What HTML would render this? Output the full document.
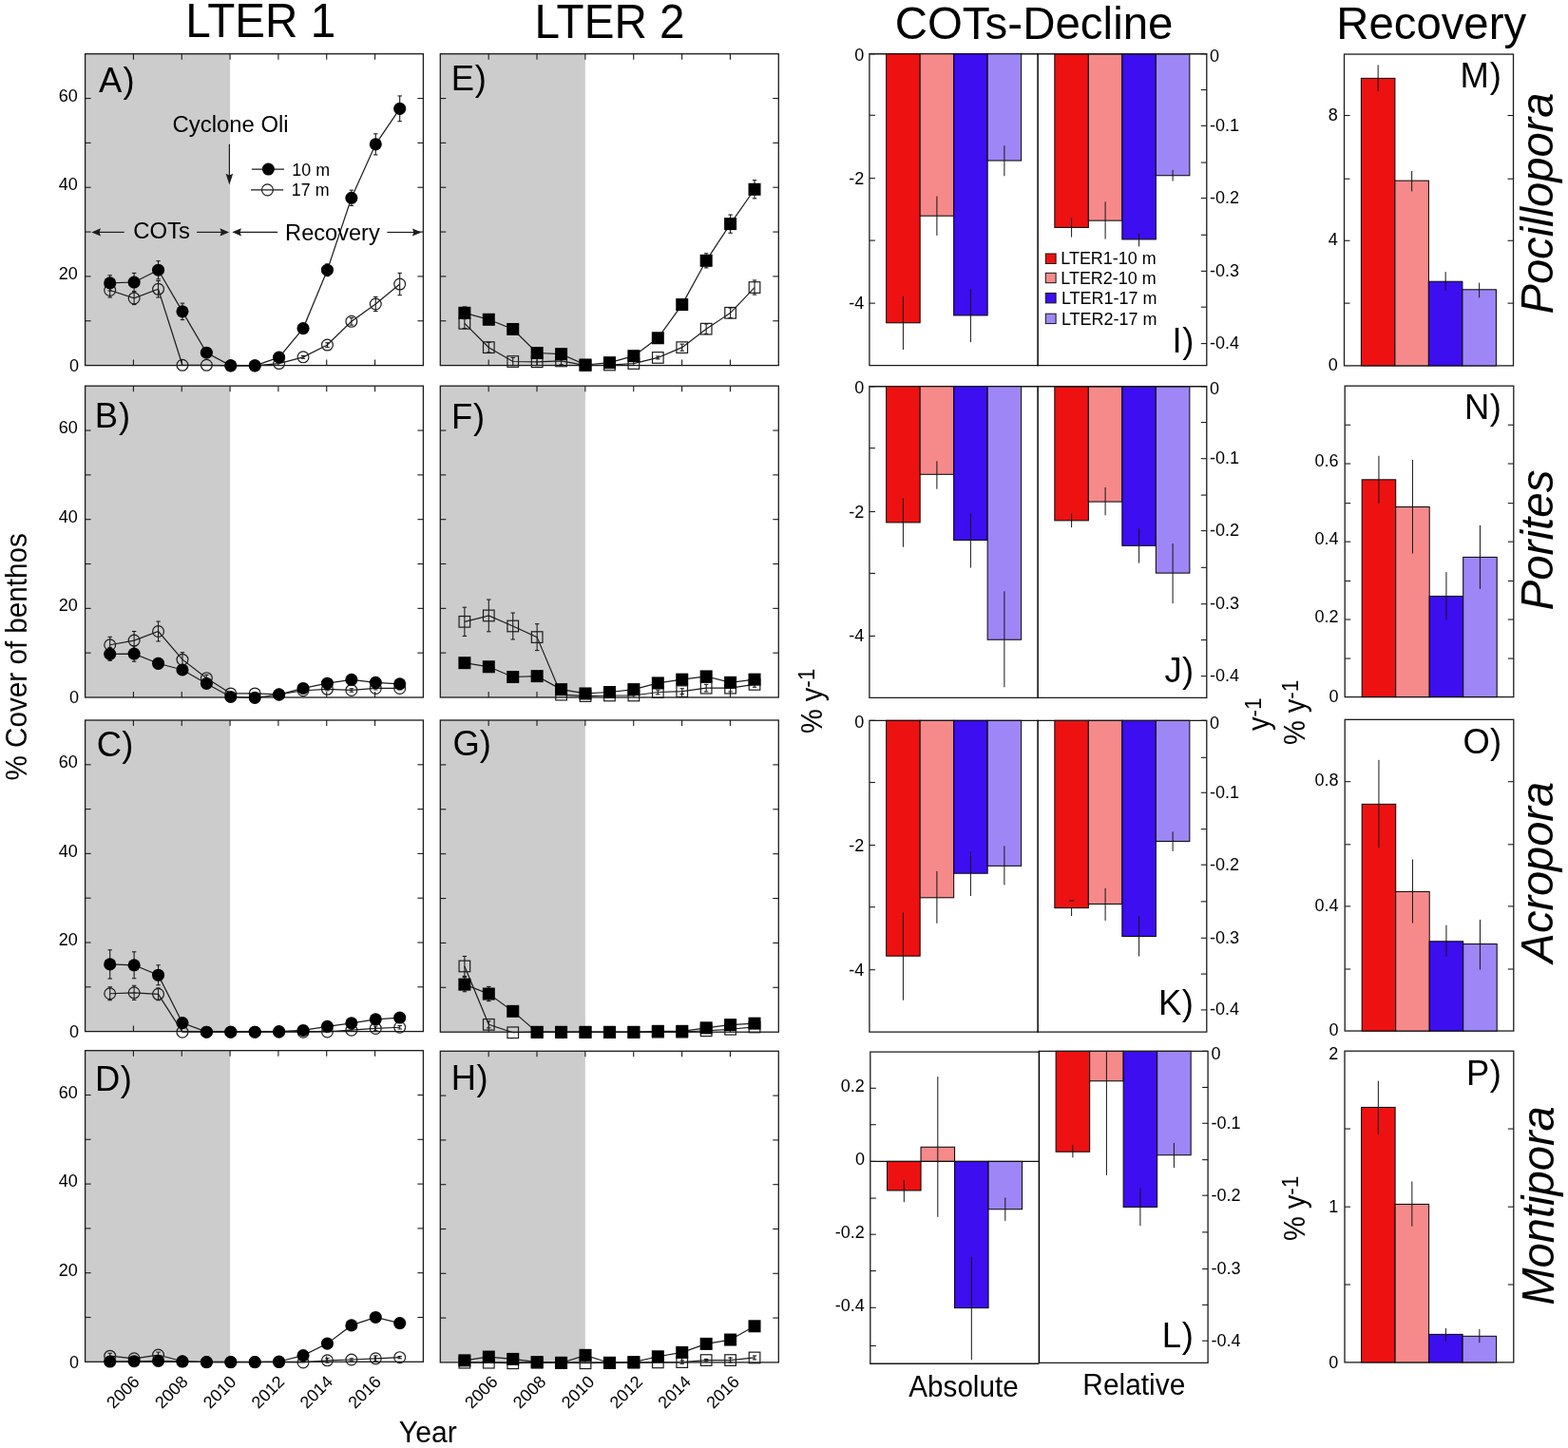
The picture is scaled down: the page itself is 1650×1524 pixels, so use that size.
<!DOCTYPE html>
<html lang="en">
<head>
<meta charset="utf-8">
<title>Coral cover figure</title>
<style>
html,body{margin:0;padding:0;background:#fff;}
body{width:1650px;height:1524px;overflow:hidden;}
svg{display:block;font-family:'Liberation Sans', Arial, Helvetica, sans-serif;}
</style>
</head>
<body>
<svg width="1650" height="1524" viewBox="0 0 1650 1524" font-family="Liberation Sans, Arial, Helvetica, sans-serif">
<rect x="0" y="0" width="1650" height="1524" fill="#fff"/>
<rect x="89.6" y="56.7" width="152.49" height="327.9" fill="#cccccc"/>
<line x1="140.43" y1="56.7" x2="140.43" y2="62.7" stroke="#1b1b1b" stroke-width="1.1"/>
<line x1="140.43" y1="384.6" x2="140.43" y2="378.6" stroke="#1b1b1b" stroke-width="1.1"/>
<line x1="191.26" y1="56.7" x2="191.26" y2="62.7" stroke="#1b1b1b" stroke-width="1.1"/>
<line x1="191.26" y1="384.6" x2="191.26" y2="378.6" stroke="#1b1b1b" stroke-width="1.1"/>
<line x1="242.09" y1="56.7" x2="242.09" y2="62.7" stroke="#1b1b1b" stroke-width="1.1"/>
<line x1="242.09" y1="384.6" x2="242.09" y2="378.6" stroke="#1b1b1b" stroke-width="1.1"/>
<line x1="292.91" y1="56.7" x2="292.91" y2="62.7" stroke="#1b1b1b" stroke-width="1.1"/>
<line x1="292.91" y1="384.6" x2="292.91" y2="378.6" stroke="#1b1b1b" stroke-width="1.1"/>
<line x1="343.74" y1="56.7" x2="343.74" y2="62.7" stroke="#1b1b1b" stroke-width="1.1"/>
<line x1="343.74" y1="384.6" x2="343.74" y2="378.6" stroke="#1b1b1b" stroke-width="1.1"/>
<line x1="394.57" y1="56.7" x2="394.57" y2="62.7" stroke="#1b1b1b" stroke-width="1.1"/>
<line x1="394.57" y1="384.6" x2="394.57" y2="378.6" stroke="#1b1b1b" stroke-width="1.1"/>
<line x1="89.6" y1="337.76" x2="95.6" y2="337.76" stroke="#1b1b1b" stroke-width="1.1"/>
<line x1="445.4" y1="337.76" x2="439.4" y2="337.76" stroke="#1b1b1b" stroke-width="1.1"/>
<line x1="89.6" y1="290.91" x2="95.6" y2="290.91" stroke="#1b1b1b" stroke-width="1.1"/>
<line x1="445.4" y1="290.91" x2="439.4" y2="290.91" stroke="#1b1b1b" stroke-width="1.1"/>
<line x1="89.6" y1="244.07" x2="95.6" y2="244.07" stroke="#1b1b1b" stroke-width="1.1"/>
<line x1="445.4" y1="244.07" x2="439.4" y2="244.07" stroke="#1b1b1b" stroke-width="1.1"/>
<line x1="89.6" y1="197.23" x2="95.6" y2="197.23" stroke="#1b1b1b" stroke-width="1.1"/>
<line x1="445.4" y1="197.23" x2="439.4" y2="197.23" stroke="#1b1b1b" stroke-width="1.1"/>
<line x1="89.6" y1="150.39" x2="95.6" y2="150.39" stroke="#1b1b1b" stroke-width="1.1"/>
<line x1="445.4" y1="150.39" x2="439.4" y2="150.39" stroke="#1b1b1b" stroke-width="1.1"/>
<line x1="89.6" y1="103.54" x2="95.6" y2="103.54" stroke="#1b1b1b" stroke-width="1.1"/>
<line x1="445.4" y1="103.54" x2="439.4" y2="103.54" stroke="#1b1b1b" stroke-width="1.1"/>
<rect x="89.6" y="56.7" width="355.8" height="327.9" fill="none" stroke="#1b1b1b" stroke-width="1.3"/>
<text x="83.1" y="390.8" font-size="18.0" text-anchor="end" fill="#000">0</text>
<text x="81.9" y="294.01" font-size="18.0" text-anchor="end" fill="#000">20</text>
<text x="81.9" y="200.33" font-size="18.0" text-anchor="end" fill="#000">40</text>
<text x="81.9" y="106.64" font-size="18.0" text-anchor="end" fill="#000">60</text>
<text x="104.12" y="96.65" font-size="36.4" letter-spacing="1.17">A)</text>
<g>
<polyline fill="none" stroke="#1c1c1c" stroke-width="1.2" points="115.71,305.45 141.13,313.89 166.54,304.29 191.96,384.29 217.37,384.29 242.79,384.87 268.2,384.87 293.61,382.55 319.03,375.85 344.44,363.05 369.86,338.33 395.27,320 420.69,299.05"/>
<line x1="115.71" y1="297.89" x2="115.71" y2="313.02" stroke="#1c1c1c" stroke-width="1.1"/>
<line x1="113.51" y1="297.89" x2="117.91" y2="297.89" stroke="#1c1c1c" stroke-width="1.1"/>
<line x1="113.51" y1="313.02" x2="117.91" y2="313.02" stroke="#1c1c1c" stroke-width="1.1"/>
<line x1="141.13" y1="307.2" x2="141.13" y2="320.58" stroke="#1c1c1c" stroke-width="1.1"/>
<line x1="138.93" y1="307.2" x2="143.33" y2="307.2" stroke="#1c1c1c" stroke-width="1.1"/>
<line x1="138.93" y1="320.58" x2="143.33" y2="320.58" stroke="#1c1c1c" stroke-width="1.1"/>
<line x1="166.54" y1="295.56" x2="166.54" y2="313.02" stroke="#1c1c1c" stroke-width="1.1"/>
<line x1="164.34" y1="295.56" x2="168.74" y2="295.56" stroke="#1c1c1c" stroke-width="1.1"/>
<line x1="164.34" y1="313.02" x2="168.74" y2="313.02" stroke="#1c1c1c" stroke-width="1.1"/>
<line x1="319.03" y1="374.4" x2="319.03" y2="377.31" stroke="#1c1c1c" stroke-width="1.1"/>
<line x1="316.83" y1="374.4" x2="321.23" y2="374.4" stroke="#1c1c1c" stroke-width="1.1"/>
<line x1="316.83" y1="377.31" x2="321.23" y2="377.31" stroke="#1c1c1c" stroke-width="1.1"/>
<line x1="344.44" y1="360.73" x2="344.44" y2="365.38" stroke="#1c1c1c" stroke-width="1.1"/>
<line x1="342.24" y1="360.73" x2="346.64" y2="360.73" stroke="#1c1c1c" stroke-width="1.1"/>
<line x1="342.24" y1="365.38" x2="346.64" y2="365.38" stroke="#1c1c1c" stroke-width="1.1"/>
<line x1="369.86" y1="334.55" x2="369.86" y2="342.11" stroke="#1c1c1c" stroke-width="1.1"/>
<line x1="367.66" y1="334.55" x2="372.06" y2="334.55" stroke="#1c1c1c" stroke-width="1.1"/>
<line x1="367.66" y1="342.11" x2="372.06" y2="342.11" stroke="#1c1c1c" stroke-width="1.1"/>
<line x1="395.27" y1="312.44" x2="395.27" y2="327.56" stroke="#1c1c1c" stroke-width="1.1"/>
<line x1="393.07" y1="312.44" x2="397.47" y2="312.44" stroke="#1c1c1c" stroke-width="1.1"/>
<line x1="393.07" y1="327.56" x2="397.47" y2="327.56" stroke="#1c1c1c" stroke-width="1.1"/>
<line x1="420.69" y1="287.42" x2="420.69" y2="310.69" stroke="#1c1c1c" stroke-width="1.1"/>
<line x1="418.49" y1="287.42" x2="422.89" y2="287.42" stroke="#1c1c1c" stroke-width="1.1"/>
<line x1="418.49" y1="310.69" x2="422.89" y2="310.69" stroke="#1c1c1c" stroke-width="1.1"/>
<circle cx="115.71" cy="305.45" r="5.9" fill="none" stroke="#1c1c1c" stroke-width="1.2"/>
<circle cx="141.13" cy="313.89" r="5.9" fill="none" stroke="#1c1c1c" stroke-width="1.2"/>
<circle cx="166.54" cy="304.29" r="5.9" fill="none" stroke="#1c1c1c" stroke-width="1.2"/>
<circle cx="191.96" cy="384.29" r="5.9" fill="none" stroke="#1c1c1c" stroke-width="1.2"/>
<circle cx="217.37" cy="384.29" r="5.9" fill="none" stroke="#1c1c1c" stroke-width="1.2"/>
<circle cx="242.79" cy="384.87" r="5.9" fill="none" stroke="#1c1c1c" stroke-width="1.2"/>
<circle cx="268.2" cy="384.87" r="5.9" fill="none" stroke="#1c1c1c" stroke-width="1.2"/>
<circle cx="293.61" cy="382.55" r="5.9" fill="none" stroke="#1c1c1c" stroke-width="1.2"/>
<circle cx="319.03" cy="375.85" r="5.9" fill="none" stroke="#1c1c1c" stroke-width="1.2"/>
<circle cx="344.44" cy="363.05" r="5.9" fill="none" stroke="#1c1c1c" stroke-width="1.2"/>
<circle cx="369.86" cy="338.33" r="5.9" fill="none" stroke="#1c1c1c" stroke-width="1.2"/>
<circle cx="395.27" cy="320" r="5.9" fill="none" stroke="#1c1c1c" stroke-width="1.2"/>
<circle cx="420.69" cy="299.05" r="5.9" fill="none" stroke="#1c1c1c" stroke-width="1.2"/>
<polyline fill="none" stroke="#1c1c1c" stroke-width="1.2" points="115.71,297.89 141.13,297.02 166.54,284.22 191.96,327.85 217.37,371.2 242.79,384.87 268.2,384.87 293.61,376.15 319.03,345.6 344.44,284.22 369.86,208.29 395.27,151.85 420.69,114.33"/>
<line x1="115.71" y1="289.75" x2="115.71" y2="306.04" stroke="#1c1c1c" stroke-width="1.1"/>
<line x1="113.51" y1="289.75" x2="117.91" y2="289.75" stroke="#1c1c1c" stroke-width="1.1"/>
<line x1="113.51" y1="306.04" x2="117.91" y2="306.04" stroke="#1c1c1c" stroke-width="1.1"/>
<line x1="141.13" y1="287.42" x2="141.13" y2="306.62" stroke="#1c1c1c" stroke-width="1.1"/>
<line x1="138.93" y1="287.42" x2="143.33" y2="287.42" stroke="#1c1c1c" stroke-width="1.1"/>
<line x1="138.93" y1="306.62" x2="143.33" y2="306.62" stroke="#1c1c1c" stroke-width="1.1"/>
<line x1="166.54" y1="274.62" x2="166.54" y2="293.82" stroke="#1c1c1c" stroke-width="1.1"/>
<line x1="164.34" y1="274.62" x2="168.74" y2="274.62" stroke="#1c1c1c" stroke-width="1.1"/>
<line x1="164.34" y1="293.82" x2="168.74" y2="293.82" stroke="#1c1c1c" stroke-width="1.1"/>
<line x1="191.96" y1="319.13" x2="191.96" y2="336.58" stroke="#1c1c1c" stroke-width="1.1"/>
<line x1="189.76" y1="319.13" x2="194.16" y2="319.13" stroke="#1c1c1c" stroke-width="1.1"/>
<line x1="189.76" y1="336.58" x2="194.16" y2="336.58" stroke="#1c1c1c" stroke-width="1.1"/>
<line x1="217.37" y1="368.29" x2="217.37" y2="374.11" stroke="#1c1c1c" stroke-width="1.1"/>
<line x1="215.17" y1="368.29" x2="219.57" y2="368.29" stroke="#1c1c1c" stroke-width="1.1"/>
<line x1="215.17" y1="374.11" x2="219.57" y2="374.11" stroke="#1c1c1c" stroke-width="1.1"/>
<line x1="293.61" y1="374.4" x2="293.61" y2="377.89" stroke="#1c1c1c" stroke-width="1.1"/>
<line x1="291.41" y1="374.4" x2="295.81" y2="374.4" stroke="#1c1c1c" stroke-width="1.1"/>
<line x1="291.41" y1="377.89" x2="295.81" y2="377.89" stroke="#1c1c1c" stroke-width="1.1"/>
<line x1="319.03" y1="343.27" x2="319.03" y2="347.93" stroke="#1c1c1c" stroke-width="1.1"/>
<line x1="316.83" y1="343.27" x2="321.23" y2="343.27" stroke="#1c1c1c" stroke-width="1.1"/>
<line x1="316.83" y1="347.93" x2="321.23" y2="347.93" stroke="#1c1c1c" stroke-width="1.1"/>
<line x1="344.44" y1="277.82" x2="344.44" y2="290.62" stroke="#1c1c1c" stroke-width="1.1"/>
<line x1="342.24" y1="277.82" x2="346.64" y2="277.82" stroke="#1c1c1c" stroke-width="1.1"/>
<line x1="342.24" y1="290.62" x2="346.64" y2="290.62" stroke="#1c1c1c" stroke-width="1.1"/>
<line x1="369.86" y1="200.15" x2="369.86" y2="216.44" stroke="#1c1c1c" stroke-width="1.1"/>
<line x1="367.66" y1="200.15" x2="372.06" y2="200.15" stroke="#1c1c1c" stroke-width="1.1"/>
<line x1="367.66" y1="216.44" x2="372.06" y2="216.44" stroke="#1c1c1c" stroke-width="1.1"/>
<line x1="395.27" y1="140.8" x2="395.27" y2="162.91" stroke="#1c1c1c" stroke-width="1.1"/>
<line x1="393.07" y1="140.8" x2="397.47" y2="140.8" stroke="#1c1c1c" stroke-width="1.1"/>
<line x1="393.07" y1="162.91" x2="397.47" y2="162.91" stroke="#1c1c1c" stroke-width="1.1"/>
<line x1="420.69" y1="100.95" x2="420.69" y2="127.71" stroke="#1c1c1c" stroke-width="1.1"/>
<line x1="418.49" y1="100.95" x2="422.89" y2="100.95" stroke="#1c1c1c" stroke-width="1.1"/>
<line x1="418.49" y1="127.71" x2="422.89" y2="127.71" stroke="#1c1c1c" stroke-width="1.1"/>
<circle cx="115.71" cy="297.89" r="6.55" fill="#000"/>
<circle cx="141.13" cy="297.02" r="6.55" fill="#000"/>
<circle cx="166.54" cy="284.22" r="6.55" fill="#000"/>
<circle cx="191.96" cy="327.85" r="6.55" fill="#000"/>
<circle cx="217.37" cy="371.2" r="6.55" fill="#000"/>
<circle cx="242.79" cy="384.87" r="6.55" fill="#000"/>
<circle cx="268.2" cy="384.87" r="6.55" fill="#000"/>
<circle cx="293.61" cy="376.15" r="6.55" fill="#000"/>
<circle cx="319.03" cy="345.6" r="6.55" fill="#000"/>
<circle cx="344.44" cy="284.22" r="6.55" fill="#000"/>
<circle cx="369.86" cy="208.29" r="6.55" fill="#000"/>
<circle cx="395.27" cy="151.85" r="6.55" fill="#000"/>
<circle cx="420.69" cy="114.33" r="6.55" fill="#000"/>
</g>
<rect x="89.6" y="406.2" width="152.49" height="327.8" fill="#cccccc"/>
<line x1="140.43" y1="406.2" x2="140.43" y2="412.2" stroke="#1b1b1b" stroke-width="1.1"/>
<line x1="140.43" y1="734" x2="140.43" y2="728" stroke="#1b1b1b" stroke-width="1.1"/>
<line x1="191.26" y1="406.2" x2="191.26" y2="412.2" stroke="#1b1b1b" stroke-width="1.1"/>
<line x1="191.26" y1="734" x2="191.26" y2="728" stroke="#1b1b1b" stroke-width="1.1"/>
<line x1="242.09" y1="406.2" x2="242.09" y2="412.2" stroke="#1b1b1b" stroke-width="1.1"/>
<line x1="242.09" y1="734" x2="242.09" y2="728" stroke="#1b1b1b" stroke-width="1.1"/>
<line x1="292.91" y1="406.2" x2="292.91" y2="412.2" stroke="#1b1b1b" stroke-width="1.1"/>
<line x1="292.91" y1="734" x2="292.91" y2="728" stroke="#1b1b1b" stroke-width="1.1"/>
<line x1="343.74" y1="406.2" x2="343.74" y2="412.2" stroke="#1b1b1b" stroke-width="1.1"/>
<line x1="343.74" y1="734" x2="343.74" y2="728" stroke="#1b1b1b" stroke-width="1.1"/>
<line x1="394.57" y1="406.2" x2="394.57" y2="412.2" stroke="#1b1b1b" stroke-width="1.1"/>
<line x1="394.57" y1="734" x2="394.57" y2="728" stroke="#1b1b1b" stroke-width="1.1"/>
<line x1="89.6" y1="687.17" x2="95.6" y2="687.17" stroke="#1b1b1b" stroke-width="1.1"/>
<line x1="445.4" y1="687.17" x2="439.4" y2="687.17" stroke="#1b1b1b" stroke-width="1.1"/>
<line x1="89.6" y1="640.34" x2="95.6" y2="640.34" stroke="#1b1b1b" stroke-width="1.1"/>
<line x1="445.4" y1="640.34" x2="439.4" y2="640.34" stroke="#1b1b1b" stroke-width="1.1"/>
<line x1="89.6" y1="593.51" x2="95.6" y2="593.51" stroke="#1b1b1b" stroke-width="1.1"/>
<line x1="445.4" y1="593.51" x2="439.4" y2="593.51" stroke="#1b1b1b" stroke-width="1.1"/>
<line x1="89.6" y1="546.69" x2="95.6" y2="546.69" stroke="#1b1b1b" stroke-width="1.1"/>
<line x1="445.4" y1="546.69" x2="439.4" y2="546.69" stroke="#1b1b1b" stroke-width="1.1"/>
<line x1="89.6" y1="499.86" x2="95.6" y2="499.86" stroke="#1b1b1b" stroke-width="1.1"/>
<line x1="445.4" y1="499.86" x2="439.4" y2="499.86" stroke="#1b1b1b" stroke-width="1.1"/>
<line x1="89.6" y1="453.03" x2="95.6" y2="453.03" stroke="#1b1b1b" stroke-width="1.1"/>
<line x1="445.4" y1="453.03" x2="439.4" y2="453.03" stroke="#1b1b1b" stroke-width="1.1"/>
<rect x="89.6" y="406.2" width="355.8" height="327.8" fill="none" stroke="#1b1b1b" stroke-width="1.3"/>
<text x="83.1" y="740.2" font-size="18.0" text-anchor="end" fill="#000">0</text>
<text x="81.9" y="643.44" font-size="18.0" text-anchor="end" fill="#000">20</text>
<text x="81.9" y="549.79" font-size="18.0" text-anchor="end" fill="#000">40</text>
<text x="81.9" y="456.13" font-size="18.0" text-anchor="end" fill="#000">60</text>
<text x="99.85" y="449.7" font-size="36.4" letter-spacing="0.94">B)</text>
<g>
<polyline fill="none" stroke="#1c1c1c" stroke-width="1.2" points="115.71,678.76 141.13,674.11 166.54,664.51 191.96,694.18 217.37,713.67 242.79,729.96 268.2,729.96 293.61,730.84 319.03,726.76 344.44,725.31 369.86,726.47 395.27,724.44 420.69,724.44"/>
<line x1="115.71" y1="670.33" x2="115.71" y2="687.2" stroke="#1c1c1c" stroke-width="1.1"/>
<line x1="113.51" y1="670.33" x2="117.91" y2="670.33" stroke="#1c1c1c" stroke-width="1.1"/>
<line x1="113.51" y1="687.2" x2="117.91" y2="687.2" stroke="#1c1c1c" stroke-width="1.1"/>
<line x1="141.13" y1="664.51" x2="141.13" y2="683.71" stroke="#1c1c1c" stroke-width="1.1"/>
<line x1="138.93" y1="664.51" x2="143.33" y2="664.51" stroke="#1c1c1c" stroke-width="1.1"/>
<line x1="138.93" y1="683.71" x2="143.33" y2="683.71" stroke="#1c1c1c" stroke-width="1.1"/>
<line x1="166.54" y1="654.04" x2="166.54" y2="674.98" stroke="#1c1c1c" stroke-width="1.1"/>
<line x1="164.34" y1="654.04" x2="168.74" y2="654.04" stroke="#1c1c1c" stroke-width="1.1"/>
<line x1="164.34" y1="674.98" x2="168.74" y2="674.98" stroke="#1c1c1c" stroke-width="1.1"/>
<line x1="191.96" y1="686.62" x2="191.96" y2="701.75" stroke="#1c1c1c" stroke-width="1.1"/>
<line x1="189.76" y1="686.62" x2="194.16" y2="686.62" stroke="#1c1c1c" stroke-width="1.1"/>
<line x1="189.76" y1="701.75" x2="194.16" y2="701.75" stroke="#1c1c1c" stroke-width="1.1"/>
<line x1="217.37" y1="710.18" x2="217.37" y2="717.16" stroke="#1c1c1c" stroke-width="1.1"/>
<line x1="215.17" y1="710.18" x2="219.57" y2="710.18" stroke="#1c1c1c" stroke-width="1.1"/>
<line x1="215.17" y1="717.16" x2="219.57" y2="717.16" stroke="#1c1c1c" stroke-width="1.1"/>
<line x1="319.03" y1="725.6" x2="319.03" y2="727.93" stroke="#1c1c1c" stroke-width="1.1"/>
<line x1="316.83" y1="725.6" x2="321.23" y2="725.6" stroke="#1c1c1c" stroke-width="1.1"/>
<line x1="316.83" y1="727.93" x2="321.23" y2="727.93" stroke="#1c1c1c" stroke-width="1.1"/>
<line x1="344.44" y1="723.85" x2="344.44" y2="726.76" stroke="#1c1c1c" stroke-width="1.1"/>
<line x1="342.24" y1="723.85" x2="346.64" y2="723.85" stroke="#1c1c1c" stroke-width="1.1"/>
<line x1="342.24" y1="726.76" x2="346.64" y2="726.76" stroke="#1c1c1c" stroke-width="1.1"/>
<line x1="369.86" y1="724.73" x2="369.86" y2="728.22" stroke="#1c1c1c" stroke-width="1.1"/>
<line x1="367.66" y1="724.73" x2="372.06" y2="724.73" stroke="#1c1c1c" stroke-width="1.1"/>
<line x1="367.66" y1="728.22" x2="372.06" y2="728.22" stroke="#1c1c1c" stroke-width="1.1"/>
<line x1="395.27" y1="722.98" x2="395.27" y2="725.89" stroke="#1c1c1c" stroke-width="1.1"/>
<line x1="393.07" y1="722.98" x2="397.47" y2="722.98" stroke="#1c1c1c" stroke-width="1.1"/>
<line x1="393.07" y1="725.89" x2="397.47" y2="725.89" stroke="#1c1c1c" stroke-width="1.1"/>
<line x1="420.69" y1="722.98" x2="420.69" y2="725.89" stroke="#1c1c1c" stroke-width="1.1"/>
<line x1="418.49" y1="722.98" x2="422.89" y2="722.98" stroke="#1c1c1c" stroke-width="1.1"/>
<line x1="418.49" y1="725.89" x2="422.89" y2="725.89" stroke="#1c1c1c" stroke-width="1.1"/>
<circle cx="115.71" cy="678.76" r="5.9" fill="none" stroke="#1c1c1c" stroke-width="1.2"/>
<circle cx="141.13" cy="674.11" r="5.9" fill="none" stroke="#1c1c1c" stroke-width="1.2"/>
<circle cx="166.54" cy="664.51" r="5.9" fill="none" stroke="#1c1c1c" stroke-width="1.2"/>
<circle cx="191.96" cy="694.18" r="5.9" fill="none" stroke="#1c1c1c" stroke-width="1.2"/>
<circle cx="217.37" cy="713.67" r="5.9" fill="none" stroke="#1c1c1c" stroke-width="1.2"/>
<circle cx="242.79" cy="729.96" r="5.9" fill="none" stroke="#1c1c1c" stroke-width="1.2"/>
<circle cx="268.2" cy="729.96" r="5.9" fill="none" stroke="#1c1c1c" stroke-width="1.2"/>
<circle cx="293.61" cy="730.84" r="5.9" fill="none" stroke="#1c1c1c" stroke-width="1.2"/>
<circle cx="319.03" cy="726.76" r="5.9" fill="none" stroke="#1c1c1c" stroke-width="1.2"/>
<circle cx="344.44" cy="725.31" r="5.9" fill="none" stroke="#1c1c1c" stroke-width="1.2"/>
<circle cx="369.86" cy="726.47" r="5.9" fill="none" stroke="#1c1c1c" stroke-width="1.2"/>
<circle cx="395.27" cy="724.44" r="5.9" fill="none" stroke="#1c1c1c" stroke-width="1.2"/>
<circle cx="420.69" cy="724.44" r="5.9" fill="none" stroke="#1c1c1c" stroke-width="1.2"/>
<polyline fill="none" stroke="#1c1c1c" stroke-width="1.2" points="115.71,688.36 141.13,688.07 166.54,698.25 191.96,704.95 217.37,719.49 242.79,733.45 268.2,734.33 293.61,731.13 319.03,724.44 344.44,719.2 369.86,715.42 395.27,718.33 420.69,719.78"/>
<line x1="115.71" y1="681.38" x2="115.71" y2="695.35" stroke="#1c1c1c" stroke-width="1.1"/>
<line x1="113.51" y1="681.38" x2="117.91" y2="681.38" stroke="#1c1c1c" stroke-width="1.1"/>
<line x1="113.51" y1="695.35" x2="117.91" y2="695.35" stroke="#1c1c1c" stroke-width="1.1"/>
<line x1="141.13" y1="679.93" x2="141.13" y2="696.22" stroke="#1c1c1c" stroke-width="1.1"/>
<line x1="138.93" y1="679.93" x2="143.33" y2="679.93" stroke="#1c1c1c" stroke-width="1.1"/>
<line x1="138.93" y1="696.22" x2="143.33" y2="696.22" stroke="#1c1c1c" stroke-width="1.1"/>
<line x1="166.54" y1="692.44" x2="166.54" y2="704.07" stroke="#1c1c1c" stroke-width="1.1"/>
<line x1="164.34" y1="692.44" x2="168.74" y2="692.44" stroke="#1c1c1c" stroke-width="1.1"/>
<line x1="164.34" y1="704.07" x2="168.74" y2="704.07" stroke="#1c1c1c" stroke-width="1.1"/>
<line x1="191.96" y1="701.45" x2="191.96" y2="708.44" stroke="#1c1c1c" stroke-width="1.1"/>
<line x1="189.76" y1="701.45" x2="194.16" y2="701.45" stroke="#1c1c1c" stroke-width="1.1"/>
<line x1="189.76" y1="708.44" x2="194.16" y2="708.44" stroke="#1c1c1c" stroke-width="1.1"/>
<line x1="217.37" y1="717.16" x2="217.37" y2="721.82" stroke="#1c1c1c" stroke-width="1.1"/>
<line x1="215.17" y1="717.16" x2="219.57" y2="717.16" stroke="#1c1c1c" stroke-width="1.1"/>
<line x1="215.17" y1="721.82" x2="219.57" y2="721.82" stroke="#1c1c1c" stroke-width="1.1"/>
<line x1="319.03" y1="722.98" x2="319.03" y2="725.89" stroke="#1c1c1c" stroke-width="1.1"/>
<line x1="316.83" y1="722.98" x2="321.23" y2="722.98" stroke="#1c1c1c" stroke-width="1.1"/>
<line x1="316.83" y1="725.89" x2="321.23" y2="725.89" stroke="#1c1c1c" stroke-width="1.1"/>
<line x1="344.44" y1="717.45" x2="344.44" y2="720.95" stroke="#1c1c1c" stroke-width="1.1"/>
<line x1="342.24" y1="717.45" x2="346.64" y2="717.45" stroke="#1c1c1c" stroke-width="1.1"/>
<line x1="342.24" y1="720.95" x2="346.64" y2="720.95" stroke="#1c1c1c" stroke-width="1.1"/>
<line x1="369.86" y1="713.67" x2="369.86" y2="717.16" stroke="#1c1c1c" stroke-width="1.1"/>
<line x1="367.66" y1="713.67" x2="372.06" y2="713.67" stroke="#1c1c1c" stroke-width="1.1"/>
<line x1="367.66" y1="717.16" x2="372.06" y2="717.16" stroke="#1c1c1c" stroke-width="1.1"/>
<line x1="395.27" y1="716.58" x2="395.27" y2="720.07" stroke="#1c1c1c" stroke-width="1.1"/>
<line x1="393.07" y1="716.58" x2="397.47" y2="716.58" stroke="#1c1c1c" stroke-width="1.1"/>
<line x1="393.07" y1="720.07" x2="397.47" y2="720.07" stroke="#1c1c1c" stroke-width="1.1"/>
<line x1="420.69" y1="718.04" x2="420.69" y2="721.53" stroke="#1c1c1c" stroke-width="1.1"/>
<line x1="418.49" y1="718.04" x2="422.89" y2="718.04" stroke="#1c1c1c" stroke-width="1.1"/>
<line x1="418.49" y1="721.53" x2="422.89" y2="721.53" stroke="#1c1c1c" stroke-width="1.1"/>
<circle cx="115.71" cy="688.36" r="6.55" fill="#000"/>
<circle cx="141.13" cy="688.07" r="6.55" fill="#000"/>
<circle cx="166.54" cy="698.25" r="6.55" fill="#000"/>
<circle cx="191.96" cy="704.95" r="6.55" fill="#000"/>
<circle cx="217.37" cy="719.49" r="6.55" fill="#000"/>
<circle cx="242.79" cy="733.45" r="6.55" fill="#000"/>
<circle cx="268.2" cy="734.33" r="6.55" fill="#000"/>
<circle cx="293.61" cy="731.13" r="6.55" fill="#000"/>
<circle cx="319.03" cy="724.44" r="6.55" fill="#000"/>
<circle cx="344.44" cy="719.2" r="6.55" fill="#000"/>
<circle cx="369.86" cy="715.42" r="6.55" fill="#000"/>
<circle cx="395.27" cy="718.33" r="6.55" fill="#000"/>
<circle cx="420.69" cy="719.78" r="6.55" fill="#000"/>
</g>
<rect x="89.6" y="758" width="152.49" height="327.6" fill="#cccccc"/>
<line x1="140.43" y1="758" x2="140.43" y2="764" stroke="#1b1b1b" stroke-width="1.1"/>
<line x1="140.43" y1="1085.6" x2="140.43" y2="1079.6" stroke="#1b1b1b" stroke-width="1.1"/>
<line x1="191.26" y1="758" x2="191.26" y2="764" stroke="#1b1b1b" stroke-width="1.1"/>
<line x1="191.26" y1="1085.6" x2="191.26" y2="1079.6" stroke="#1b1b1b" stroke-width="1.1"/>
<line x1="242.09" y1="758" x2="242.09" y2="764" stroke="#1b1b1b" stroke-width="1.1"/>
<line x1="242.09" y1="1085.6" x2="242.09" y2="1079.6" stroke="#1b1b1b" stroke-width="1.1"/>
<line x1="292.91" y1="758" x2="292.91" y2="764" stroke="#1b1b1b" stroke-width="1.1"/>
<line x1="292.91" y1="1085.6" x2="292.91" y2="1079.6" stroke="#1b1b1b" stroke-width="1.1"/>
<line x1="343.74" y1="758" x2="343.74" y2="764" stroke="#1b1b1b" stroke-width="1.1"/>
<line x1="343.74" y1="1085.6" x2="343.74" y2="1079.6" stroke="#1b1b1b" stroke-width="1.1"/>
<line x1="394.57" y1="758" x2="394.57" y2="764" stroke="#1b1b1b" stroke-width="1.1"/>
<line x1="394.57" y1="1085.6" x2="394.57" y2="1079.6" stroke="#1b1b1b" stroke-width="1.1"/>
<line x1="89.6" y1="1038.8" x2="95.6" y2="1038.8" stroke="#1b1b1b" stroke-width="1.1"/>
<line x1="445.4" y1="1038.8" x2="439.4" y2="1038.8" stroke="#1b1b1b" stroke-width="1.1"/>
<line x1="89.6" y1="992" x2="95.6" y2="992" stroke="#1b1b1b" stroke-width="1.1"/>
<line x1="445.4" y1="992" x2="439.4" y2="992" stroke="#1b1b1b" stroke-width="1.1"/>
<line x1="89.6" y1="945.2" x2="95.6" y2="945.2" stroke="#1b1b1b" stroke-width="1.1"/>
<line x1="445.4" y1="945.2" x2="439.4" y2="945.2" stroke="#1b1b1b" stroke-width="1.1"/>
<line x1="89.6" y1="898.4" x2="95.6" y2="898.4" stroke="#1b1b1b" stroke-width="1.1"/>
<line x1="445.4" y1="898.4" x2="439.4" y2="898.4" stroke="#1b1b1b" stroke-width="1.1"/>
<line x1="89.6" y1="851.6" x2="95.6" y2="851.6" stroke="#1b1b1b" stroke-width="1.1"/>
<line x1="445.4" y1="851.6" x2="439.4" y2="851.6" stroke="#1b1b1b" stroke-width="1.1"/>
<line x1="89.6" y1="804.8" x2="95.6" y2="804.8" stroke="#1b1b1b" stroke-width="1.1"/>
<line x1="445.4" y1="804.8" x2="439.4" y2="804.8" stroke="#1b1b1b" stroke-width="1.1"/>
<rect x="89.6" y="758" width="355.8" height="327.6" fill="none" stroke="#1b1b1b" stroke-width="1.3"/>
<text x="83.1" y="1091.8" font-size="18.0" text-anchor="end" fill="#000">0</text>
<text x="81.9" y="995.1" font-size="18.0" text-anchor="end" fill="#000">20</text>
<text x="81.9" y="901.5" font-size="18.0" text-anchor="end" fill="#000">40</text>
<text x="81.9" y="807.9" font-size="18.0" text-anchor="end" fill="#000">60</text>
<text x="101.68" y="795.9" font-size="36.4" letter-spacing="0.30">C)</text>
<g>
<polyline fill="none" stroke="#1c1c1c" stroke-width="1.2" points="115.71,1045.75 141.13,1044.87 166.54,1046.33 191.96,1086.18 217.37,1086.18 242.79,1086.18 268.2,1086.18 293.61,1086.18 319.03,1086.18 344.44,1085.89 369.86,1084.15 395.27,1082.4 420.69,1081.24"/>
<line x1="115.71" y1="1038.76" x2="115.71" y2="1052.73" stroke="#1c1c1c" stroke-width="1.1"/>
<line x1="113.51" y1="1038.76" x2="117.91" y2="1038.76" stroke="#1c1c1c" stroke-width="1.1"/>
<line x1="113.51" y1="1052.73" x2="117.91" y2="1052.73" stroke="#1c1c1c" stroke-width="1.1"/>
<line x1="141.13" y1="1037.31" x2="141.13" y2="1052.44" stroke="#1c1c1c" stroke-width="1.1"/>
<line x1="138.93" y1="1037.31" x2="143.33" y2="1037.31" stroke="#1c1c1c" stroke-width="1.1"/>
<line x1="138.93" y1="1052.44" x2="143.33" y2="1052.44" stroke="#1c1c1c" stroke-width="1.1"/>
<line x1="166.54" y1="1039.93" x2="166.54" y2="1052.73" stroke="#1c1c1c" stroke-width="1.1"/>
<line x1="164.34" y1="1039.93" x2="168.74" y2="1039.93" stroke="#1c1c1c" stroke-width="1.1"/>
<line x1="164.34" y1="1052.73" x2="168.74" y2="1052.73" stroke="#1c1c1c" stroke-width="1.1"/>
<line x1="369.86" y1="1082.98" x2="369.86" y2="1085.31" stroke="#1c1c1c" stroke-width="1.1"/>
<line x1="367.66" y1="1082.98" x2="372.06" y2="1082.98" stroke="#1c1c1c" stroke-width="1.1"/>
<line x1="367.66" y1="1085.31" x2="372.06" y2="1085.31" stroke="#1c1c1c" stroke-width="1.1"/>
<line x1="395.27" y1="1080.07" x2="395.27" y2="1084.73" stroke="#1c1c1c" stroke-width="1.1"/>
<line x1="393.07" y1="1080.07" x2="397.47" y2="1080.07" stroke="#1c1c1c" stroke-width="1.1"/>
<line x1="393.07" y1="1084.73" x2="397.47" y2="1084.73" stroke="#1c1c1c" stroke-width="1.1"/>
<line x1="420.69" y1="1079.49" x2="420.69" y2="1082.98" stroke="#1c1c1c" stroke-width="1.1"/>
<line x1="418.49" y1="1079.49" x2="422.89" y2="1079.49" stroke="#1c1c1c" stroke-width="1.1"/>
<line x1="418.49" y1="1082.98" x2="422.89" y2="1082.98" stroke="#1c1c1c" stroke-width="1.1"/>
<circle cx="115.71" cy="1045.75" r="5.9" fill="none" stroke="#1c1c1c" stroke-width="1.2"/>
<circle cx="141.13" cy="1044.87" r="5.9" fill="none" stroke="#1c1c1c" stroke-width="1.2"/>
<circle cx="166.54" cy="1046.33" r="5.9" fill="none" stroke="#1c1c1c" stroke-width="1.2"/>
<circle cx="191.96" cy="1086.18" r="5.9" fill="none" stroke="#1c1c1c" stroke-width="1.2"/>
<circle cx="217.37" cy="1086.18" r="5.9" fill="none" stroke="#1c1c1c" stroke-width="1.2"/>
<circle cx="242.79" cy="1086.18" r="5.9" fill="none" stroke="#1c1c1c" stroke-width="1.2"/>
<circle cx="268.2" cy="1086.18" r="5.9" fill="none" stroke="#1c1c1c" stroke-width="1.2"/>
<circle cx="293.61" cy="1086.18" r="5.9" fill="none" stroke="#1c1c1c" stroke-width="1.2"/>
<circle cx="319.03" cy="1086.18" r="5.9" fill="none" stroke="#1c1c1c" stroke-width="1.2"/>
<circle cx="344.44" cy="1085.89" r="5.9" fill="none" stroke="#1c1c1c" stroke-width="1.2"/>
<circle cx="369.86" cy="1084.15" r="5.9" fill="none" stroke="#1c1c1c" stroke-width="1.2"/>
<circle cx="395.27" cy="1082.4" r="5.9" fill="none" stroke="#1c1c1c" stroke-width="1.2"/>
<circle cx="420.69" cy="1081.24" r="5.9" fill="none" stroke="#1c1c1c" stroke-width="1.2"/>
<polyline fill="none" stroke="#1c1c1c" stroke-width="1.2" points="115.71,1014.91 141.13,1015.78 166.54,1026.25 191.96,1076.58 217.37,1086.18 242.79,1086.18 268.2,1086.18 293.61,1085.6 319.03,1084.44 344.44,1080.36 369.86,1076.87 395.27,1072.8 420.69,1071.05"/>
<line x1="115.71" y1="999.78" x2="115.71" y2="1030.04" stroke="#1c1c1c" stroke-width="1.1"/>
<line x1="113.51" y1="999.78" x2="117.91" y2="999.78" stroke="#1c1c1c" stroke-width="1.1"/>
<line x1="113.51" y1="1030.04" x2="117.91" y2="1030.04" stroke="#1c1c1c" stroke-width="1.1"/>
<line x1="141.13" y1="1001.82" x2="141.13" y2="1029.75" stroke="#1c1c1c" stroke-width="1.1"/>
<line x1="138.93" y1="1001.82" x2="143.33" y2="1001.82" stroke="#1c1c1c" stroke-width="1.1"/>
<line x1="138.93" y1="1029.75" x2="143.33" y2="1029.75" stroke="#1c1c1c" stroke-width="1.1"/>
<line x1="166.54" y1="1015.78" x2="166.54" y2="1036.73" stroke="#1c1c1c" stroke-width="1.1"/>
<line x1="164.34" y1="1015.78" x2="168.74" y2="1015.78" stroke="#1c1c1c" stroke-width="1.1"/>
<line x1="164.34" y1="1036.73" x2="168.74" y2="1036.73" stroke="#1c1c1c" stroke-width="1.1"/>
<line x1="191.96" y1="1073.67" x2="191.96" y2="1079.49" stroke="#1c1c1c" stroke-width="1.1"/>
<line x1="189.76" y1="1073.67" x2="194.16" y2="1073.67" stroke="#1c1c1c" stroke-width="1.1"/>
<line x1="189.76" y1="1079.49" x2="194.16" y2="1079.49" stroke="#1c1c1c" stroke-width="1.1"/>
<line x1="369.86" y1="1075.42" x2="369.86" y2="1078.33" stroke="#1c1c1c" stroke-width="1.1"/>
<line x1="367.66" y1="1075.42" x2="372.06" y2="1075.42" stroke="#1c1c1c" stroke-width="1.1"/>
<line x1="367.66" y1="1078.33" x2="372.06" y2="1078.33" stroke="#1c1c1c" stroke-width="1.1"/>
<line x1="395.27" y1="1071.05" x2="395.27" y2="1074.55" stroke="#1c1c1c" stroke-width="1.1"/>
<line x1="393.07" y1="1071.05" x2="397.47" y2="1071.05" stroke="#1c1c1c" stroke-width="1.1"/>
<line x1="393.07" y1="1074.55" x2="397.47" y2="1074.55" stroke="#1c1c1c" stroke-width="1.1"/>
<line x1="420.69" y1="1069.31" x2="420.69" y2="1072.8" stroke="#1c1c1c" stroke-width="1.1"/>
<line x1="418.49" y1="1069.31" x2="422.89" y2="1069.31" stroke="#1c1c1c" stroke-width="1.1"/>
<line x1="418.49" y1="1072.8" x2="422.89" y2="1072.8" stroke="#1c1c1c" stroke-width="1.1"/>
<circle cx="115.71" cy="1014.91" r="6.55" fill="#000"/>
<circle cx="141.13" cy="1015.78" r="6.55" fill="#000"/>
<circle cx="166.54" cy="1026.25" r="6.55" fill="#000"/>
<circle cx="191.96" cy="1076.58" r="6.55" fill="#000"/>
<circle cx="217.37" cy="1086.18" r="6.55" fill="#000"/>
<circle cx="242.79" cy="1086.18" r="6.55" fill="#000"/>
<circle cx="268.2" cy="1086.18" r="6.55" fill="#000"/>
<circle cx="293.61" cy="1085.6" r="6.55" fill="#000"/>
<circle cx="319.03" cy="1084.44" r="6.55" fill="#000"/>
<circle cx="344.44" cy="1080.36" r="6.55" fill="#000"/>
<circle cx="369.86" cy="1076.87" r="6.55" fill="#000"/>
<circle cx="395.27" cy="1072.8" r="6.55" fill="#000"/>
<circle cx="420.69" cy="1071.05" r="6.55" fill="#000"/>
</g>
<rect x="89.6" y="1105.7" width="152.49" height="327.6" fill="#cccccc"/>
<line x1="140.43" y1="1105.7" x2="140.43" y2="1111.7" stroke="#1b1b1b" stroke-width="1.1"/>
<line x1="140.43" y1="1433.3" x2="140.43" y2="1427.3" stroke="#1b1b1b" stroke-width="1.1"/>
<line x1="191.26" y1="1105.7" x2="191.26" y2="1111.7" stroke="#1b1b1b" stroke-width="1.1"/>
<line x1="191.26" y1="1433.3" x2="191.26" y2="1427.3" stroke="#1b1b1b" stroke-width="1.1"/>
<line x1="242.09" y1="1105.7" x2="242.09" y2="1111.7" stroke="#1b1b1b" stroke-width="1.1"/>
<line x1="242.09" y1="1433.3" x2="242.09" y2="1427.3" stroke="#1b1b1b" stroke-width="1.1"/>
<line x1="292.91" y1="1105.7" x2="292.91" y2="1111.7" stroke="#1b1b1b" stroke-width="1.1"/>
<line x1="292.91" y1="1433.3" x2="292.91" y2="1427.3" stroke="#1b1b1b" stroke-width="1.1"/>
<line x1="343.74" y1="1105.7" x2="343.74" y2="1111.7" stroke="#1b1b1b" stroke-width="1.1"/>
<line x1="343.74" y1="1433.3" x2="343.74" y2="1427.3" stroke="#1b1b1b" stroke-width="1.1"/>
<line x1="394.57" y1="1105.7" x2="394.57" y2="1111.7" stroke="#1b1b1b" stroke-width="1.1"/>
<line x1="394.57" y1="1433.3" x2="394.57" y2="1427.3" stroke="#1b1b1b" stroke-width="1.1"/>
<line x1="89.6" y1="1386.5" x2="95.6" y2="1386.5" stroke="#1b1b1b" stroke-width="1.1"/>
<line x1="445.4" y1="1386.5" x2="439.4" y2="1386.5" stroke="#1b1b1b" stroke-width="1.1"/>
<line x1="89.6" y1="1339.7" x2="95.6" y2="1339.7" stroke="#1b1b1b" stroke-width="1.1"/>
<line x1="445.4" y1="1339.7" x2="439.4" y2="1339.7" stroke="#1b1b1b" stroke-width="1.1"/>
<line x1="89.6" y1="1292.9" x2="95.6" y2="1292.9" stroke="#1b1b1b" stroke-width="1.1"/>
<line x1="445.4" y1="1292.9" x2="439.4" y2="1292.9" stroke="#1b1b1b" stroke-width="1.1"/>
<line x1="89.6" y1="1246.1" x2="95.6" y2="1246.1" stroke="#1b1b1b" stroke-width="1.1"/>
<line x1="445.4" y1="1246.1" x2="439.4" y2="1246.1" stroke="#1b1b1b" stroke-width="1.1"/>
<line x1="89.6" y1="1199.3" x2="95.6" y2="1199.3" stroke="#1b1b1b" stroke-width="1.1"/>
<line x1="445.4" y1="1199.3" x2="439.4" y2="1199.3" stroke="#1b1b1b" stroke-width="1.1"/>
<line x1="89.6" y1="1152.5" x2="95.6" y2="1152.5" stroke="#1b1b1b" stroke-width="1.1"/>
<line x1="445.4" y1="1152.5" x2="439.4" y2="1152.5" stroke="#1b1b1b" stroke-width="1.1"/>
<rect x="89.6" y="1105.7" width="355.8" height="327.6" fill="none" stroke="#1b1b1b" stroke-width="1.3"/>
<text x="83.1" y="1439.5" font-size="18.0" text-anchor="end" fill="#000">0</text>
<text x="81.9" y="1342.8" font-size="18.0" text-anchor="end" fill="#000">20</text>
<text x="81.9" y="1249.2" font-size="18.0" text-anchor="end" fill="#000">40</text>
<text x="81.9" y="1155.6" font-size="18.0" text-anchor="end" fill="#000">60</text>
<text x="99.99" y="1147.5" font-size="36.4" letter-spacing="0.59">D)</text>
<g>
<polyline fill="none" stroke="#1c1c1c" stroke-width="1.2" points="115.71,1427.2 141.13,1429.82 166.54,1426.04 191.96,1432.73 217.37,1433.6 242.79,1433.6 268.2,1433.6 293.61,1433.6 319.03,1433.89 344.44,1431.85 369.86,1430.98 395.27,1429.82 420.69,1428.65"/>
<line x1="115.71" y1="1424.29" x2="115.71" y2="1430.11" stroke="#1c1c1c" stroke-width="1.1"/>
<line x1="113.51" y1="1424.29" x2="117.91" y2="1424.29" stroke="#1c1c1c" stroke-width="1.1"/>
<line x1="113.51" y1="1430.11" x2="117.91" y2="1430.11" stroke="#1c1c1c" stroke-width="1.1"/>
<line x1="141.13" y1="1428.07" x2="141.13" y2="1431.56" stroke="#1c1c1c" stroke-width="1.1"/>
<line x1="138.93" y1="1428.07" x2="143.33" y2="1428.07" stroke="#1c1c1c" stroke-width="1.1"/>
<line x1="138.93" y1="1431.56" x2="143.33" y2="1431.56" stroke="#1c1c1c" stroke-width="1.1"/>
<line x1="166.54" y1="1423.13" x2="166.54" y2="1428.95" stroke="#1c1c1c" stroke-width="1.1"/>
<line x1="164.34" y1="1423.13" x2="168.74" y2="1423.13" stroke="#1c1c1c" stroke-width="1.1"/>
<line x1="164.34" y1="1428.95" x2="168.74" y2="1428.95" stroke="#1c1c1c" stroke-width="1.1"/>
<line x1="344.44" y1="1429.53" x2="344.44" y2="1434.18" stroke="#1c1c1c" stroke-width="1.1"/>
<line x1="342.24" y1="1429.53" x2="346.64" y2="1429.53" stroke="#1c1c1c" stroke-width="1.1"/>
<line x1="342.24" y1="1434.18" x2="346.64" y2="1434.18" stroke="#1c1c1c" stroke-width="1.1"/>
<line x1="369.86" y1="1429.82" x2="369.86" y2="1432.15" stroke="#1c1c1c" stroke-width="1.1"/>
<line x1="367.66" y1="1429.82" x2="372.06" y2="1429.82" stroke="#1c1c1c" stroke-width="1.1"/>
<line x1="367.66" y1="1432.15" x2="372.06" y2="1432.15" stroke="#1c1c1c" stroke-width="1.1"/>
<line x1="395.27" y1="1426.91" x2="395.27" y2="1432.73" stroke="#1c1c1c" stroke-width="1.1"/>
<line x1="393.07" y1="1426.91" x2="397.47" y2="1426.91" stroke="#1c1c1c" stroke-width="1.1"/>
<line x1="393.07" y1="1432.73" x2="397.47" y2="1432.73" stroke="#1c1c1c" stroke-width="1.1"/>
<line x1="420.69" y1="1427.49" x2="420.69" y2="1429.82" stroke="#1c1c1c" stroke-width="1.1"/>
<line x1="418.49" y1="1427.49" x2="422.89" y2="1427.49" stroke="#1c1c1c" stroke-width="1.1"/>
<line x1="418.49" y1="1429.82" x2="422.89" y2="1429.82" stroke="#1c1c1c" stroke-width="1.1"/>
<circle cx="115.71" cy="1427.2" r="5.9" fill="none" stroke="#1c1c1c" stroke-width="1.2"/>
<circle cx="141.13" cy="1429.82" r="5.9" fill="none" stroke="#1c1c1c" stroke-width="1.2"/>
<circle cx="166.54" cy="1426.04" r="5.9" fill="none" stroke="#1c1c1c" stroke-width="1.2"/>
<circle cx="191.96" cy="1432.73" r="5.9" fill="none" stroke="#1c1c1c" stroke-width="1.2"/>
<circle cx="217.37" cy="1433.6" r="5.9" fill="none" stroke="#1c1c1c" stroke-width="1.2"/>
<circle cx="242.79" cy="1433.6" r="5.9" fill="none" stroke="#1c1c1c" stroke-width="1.2"/>
<circle cx="268.2" cy="1433.6" r="5.9" fill="none" stroke="#1c1c1c" stroke-width="1.2"/>
<circle cx="293.61" cy="1433.6" r="5.9" fill="none" stroke="#1c1c1c" stroke-width="1.2"/>
<circle cx="319.03" cy="1433.89" r="5.9" fill="none" stroke="#1c1c1c" stroke-width="1.2"/>
<circle cx="344.44" cy="1431.85" r="5.9" fill="none" stroke="#1c1c1c" stroke-width="1.2"/>
<circle cx="369.86" cy="1430.98" r="5.9" fill="none" stroke="#1c1c1c" stroke-width="1.2"/>
<circle cx="395.27" cy="1429.82" r="5.9" fill="none" stroke="#1c1c1c" stroke-width="1.2"/>
<circle cx="420.69" cy="1428.65" r="5.9" fill="none" stroke="#1c1c1c" stroke-width="1.2"/>
<polyline fill="none" stroke="#1c1c1c" stroke-width="1.2" points="115.71,1433.02 141.13,1432.73 166.54,1432.44 191.96,1433.02 217.37,1433.6 242.79,1433.6 268.2,1433.6 293.61,1433.02 319.03,1426.62 344.44,1414.11 369.86,1394.91 395.27,1386.47 420.69,1392.58"/>
<circle cx="115.71" cy="1433.02" r="6.55" fill="#000"/>
<circle cx="141.13" cy="1432.73" r="6.55" fill="#000"/>
<circle cx="166.54" cy="1432.44" r="6.55" fill="#000"/>
<circle cx="191.96" cy="1433.02" r="6.55" fill="#000"/>
<circle cx="217.37" cy="1433.6" r="6.55" fill="#000"/>
<circle cx="242.79" cy="1433.6" r="6.55" fill="#000"/>
<circle cx="268.2" cy="1433.6" r="6.55" fill="#000"/>
<circle cx="293.61" cy="1433.02" r="6.55" fill="#000"/>
<circle cx="319.03" cy="1426.62" r="6.55" fill="#000"/>
<circle cx="344.44" cy="1414.11" r="6.55" fill="#000"/>
<circle cx="369.86" cy="1394.91" r="6.55" fill="#000"/>
<circle cx="395.27" cy="1386.47" r="6.55" fill="#000"/>
<circle cx="420.69" cy="1392.58" r="6.55" fill="#000"/>
</g>
<text x="147.93" y="1455.3" font-size="18.0" text-anchor="end" transform="rotate(-45 147.93 1455.3)" fill="#000">2006</text>
<text x="198.76" y="1455.3" font-size="18.0" text-anchor="end" transform="rotate(-45 198.76 1455.3)" fill="#000">2008</text>
<text x="249.59" y="1455.3" font-size="18.0" text-anchor="end" transform="rotate(-45 249.59 1455.3)" fill="#000">2010</text>
<text x="300.41" y="1455.3" font-size="18.0" text-anchor="end" transform="rotate(-45 300.41 1455.3)" fill="#000">2012</text>
<text x="351.24" y="1455.3" font-size="18.0" text-anchor="end" transform="rotate(-45 351.24 1455.3)" fill="#000">2014</text>
<text x="402.07" y="1455.3" font-size="18.0" text-anchor="end" transform="rotate(-45 402.07 1455.3)" fill="#000">2016</text>
<rect x="463.3" y="56.7" width="152.57" height="327.9" fill="#cccccc"/>
<line x1="514.16" y1="56.7" x2="514.16" y2="62.7" stroke="#1b1b1b" stroke-width="1.1"/>
<line x1="514.16" y1="384.6" x2="514.16" y2="378.6" stroke="#1b1b1b" stroke-width="1.1"/>
<line x1="565.01" y1="56.7" x2="565.01" y2="62.7" stroke="#1b1b1b" stroke-width="1.1"/>
<line x1="565.01" y1="384.6" x2="565.01" y2="378.6" stroke="#1b1b1b" stroke-width="1.1"/>
<line x1="615.87" y1="56.7" x2="615.87" y2="62.7" stroke="#1b1b1b" stroke-width="1.1"/>
<line x1="615.87" y1="384.6" x2="615.87" y2="378.6" stroke="#1b1b1b" stroke-width="1.1"/>
<line x1="666.73" y1="56.7" x2="666.73" y2="62.7" stroke="#1b1b1b" stroke-width="1.1"/>
<line x1="666.73" y1="384.6" x2="666.73" y2="378.6" stroke="#1b1b1b" stroke-width="1.1"/>
<line x1="717.59" y1="56.7" x2="717.59" y2="62.7" stroke="#1b1b1b" stroke-width="1.1"/>
<line x1="717.59" y1="384.6" x2="717.59" y2="378.6" stroke="#1b1b1b" stroke-width="1.1"/>
<line x1="768.44" y1="56.7" x2="768.44" y2="62.7" stroke="#1b1b1b" stroke-width="1.1"/>
<line x1="768.44" y1="384.6" x2="768.44" y2="378.6" stroke="#1b1b1b" stroke-width="1.1"/>
<line x1="463.3" y1="337.76" x2="469.3" y2="337.76" stroke="#1b1b1b" stroke-width="1.1"/>
<line x1="819.3" y1="337.76" x2="813.3" y2="337.76" stroke="#1b1b1b" stroke-width="1.1"/>
<line x1="463.3" y1="290.91" x2="469.3" y2="290.91" stroke="#1b1b1b" stroke-width="1.1"/>
<line x1="819.3" y1="290.91" x2="813.3" y2="290.91" stroke="#1b1b1b" stroke-width="1.1"/>
<line x1="463.3" y1="244.07" x2="469.3" y2="244.07" stroke="#1b1b1b" stroke-width="1.1"/>
<line x1="819.3" y1="244.07" x2="813.3" y2="244.07" stroke="#1b1b1b" stroke-width="1.1"/>
<line x1="463.3" y1="197.23" x2="469.3" y2="197.23" stroke="#1b1b1b" stroke-width="1.1"/>
<line x1="819.3" y1="197.23" x2="813.3" y2="197.23" stroke="#1b1b1b" stroke-width="1.1"/>
<line x1="463.3" y1="150.39" x2="469.3" y2="150.39" stroke="#1b1b1b" stroke-width="1.1"/>
<line x1="819.3" y1="150.39" x2="813.3" y2="150.39" stroke="#1b1b1b" stroke-width="1.1"/>
<line x1="463.3" y1="103.54" x2="469.3" y2="103.54" stroke="#1b1b1b" stroke-width="1.1"/>
<line x1="819.3" y1="103.54" x2="813.3" y2="103.54" stroke="#1b1b1b" stroke-width="1.1"/>
<rect x="463.3" y="56.7" width="356" height="327.9" fill="none" stroke="#1b1b1b" stroke-width="1.3"/>
<text x="474.69" y="95.15" font-size="36.4" letter-spacing="0.90">E)</text>
<g>
<polyline fill="none" stroke="#1c1c1c" stroke-width="1.2" points="488.88,340.36 514.31,365.67 539.74,380.51 565.16,380.8 590.59,379.93 616.02,384.58 641.45,384 666.88,382.55 692.31,376.44 717.74,365.67 743.16,346.18 768.59,329.31 794.02,302.55"/>
<line x1="488.88" y1="335.13" x2="488.88" y2="345.6" stroke="#1c1c1c" stroke-width="1.1"/>
<line x1="486.68" y1="335.13" x2="491.08" y2="335.13" stroke="#1c1c1c" stroke-width="1.1"/>
<line x1="486.68" y1="345.6" x2="491.08" y2="345.6" stroke="#1c1c1c" stroke-width="1.1"/>
<line x1="514.31" y1="360.44" x2="514.31" y2="370.91" stroke="#1c1c1c" stroke-width="1.1"/>
<line x1="512.11" y1="360.44" x2="516.51" y2="360.44" stroke="#1c1c1c" stroke-width="1.1"/>
<line x1="512.11" y1="370.91" x2="516.51" y2="370.91" stroke="#1c1c1c" stroke-width="1.1"/>
<line x1="539.74" y1="376.44" x2="539.74" y2="384.58" stroke="#1c1c1c" stroke-width="1.1"/>
<line x1="537.54" y1="376.44" x2="541.94" y2="376.44" stroke="#1c1c1c" stroke-width="1.1"/>
<line x1="537.54" y1="384.58" x2="541.94" y2="384.58" stroke="#1c1c1c" stroke-width="1.1"/>
<line x1="565.16" y1="377.02" x2="565.16" y2="384.58" stroke="#1c1c1c" stroke-width="1.1"/>
<line x1="562.96" y1="377.02" x2="567.36" y2="377.02" stroke="#1c1c1c" stroke-width="1.1"/>
<line x1="562.96" y1="384.58" x2="567.36" y2="384.58" stroke="#1c1c1c" stroke-width="1.1"/>
<line x1="590.59" y1="376.15" x2="590.59" y2="383.71" stroke="#1c1c1c" stroke-width="1.1"/>
<line x1="588.39" y1="376.15" x2="592.79" y2="376.15" stroke="#1c1c1c" stroke-width="1.1"/>
<line x1="588.39" y1="383.71" x2="592.79" y2="383.71" stroke="#1c1c1c" stroke-width="1.1"/>
<line x1="692.31" y1="374.98" x2="692.31" y2="377.89" stroke="#1c1c1c" stroke-width="1.1"/>
<line x1="690.11" y1="374.98" x2="694.51" y2="374.98" stroke="#1c1c1c" stroke-width="1.1"/>
<line x1="690.11" y1="377.89" x2="694.51" y2="377.89" stroke="#1c1c1c" stroke-width="1.1"/>
<line x1="717.74" y1="362.18" x2="717.74" y2="369.16" stroke="#1c1c1c" stroke-width="1.1"/>
<line x1="715.54" y1="362.18" x2="719.94" y2="362.18" stroke="#1c1c1c" stroke-width="1.1"/>
<line x1="715.54" y1="369.16" x2="719.94" y2="369.16" stroke="#1c1c1c" stroke-width="1.1"/>
<line x1="743.16" y1="340.95" x2="743.16" y2="351.42" stroke="#1c1c1c" stroke-width="1.1"/>
<line x1="740.96" y1="340.95" x2="745.36" y2="340.95" stroke="#1c1c1c" stroke-width="1.1"/>
<line x1="740.96" y1="351.42" x2="745.36" y2="351.42" stroke="#1c1c1c" stroke-width="1.1"/>
<line x1="768.59" y1="324.07" x2="768.59" y2="334.55" stroke="#1c1c1c" stroke-width="1.1"/>
<line x1="766.39" y1="324.07" x2="770.79" y2="324.07" stroke="#1c1c1c" stroke-width="1.1"/>
<line x1="766.39" y1="334.55" x2="770.79" y2="334.55" stroke="#1c1c1c" stroke-width="1.1"/>
<line x1="794.02" y1="294.98" x2="794.02" y2="310.11" stroke="#1c1c1c" stroke-width="1.1"/>
<line x1="791.82" y1="294.98" x2="796.22" y2="294.98" stroke="#1c1c1c" stroke-width="1.1"/>
<line x1="791.82" y1="310.11" x2="796.22" y2="310.11" stroke="#1c1c1c" stroke-width="1.1"/>
<rect x="483.08" y="334.56" width="11.6" height="11.6" fill="none" stroke="#1c1c1c" stroke-width="1.2"/>
<rect x="508.51" y="359.87" width="11.6" height="11.6" fill="none" stroke="#1c1c1c" stroke-width="1.2"/>
<rect x="533.94" y="374.71" width="11.6" height="11.6" fill="none" stroke="#1c1c1c" stroke-width="1.2"/>
<rect x="559.36" y="375" width="11.6" height="11.6" fill="none" stroke="#1c1c1c" stroke-width="1.2"/>
<rect x="584.79" y="374.13" width="11.6" height="11.6" fill="none" stroke="#1c1c1c" stroke-width="1.2"/>
<rect x="610.22" y="378.78" width="11.6" height="11.6" fill="none" stroke="#1c1c1c" stroke-width="1.2"/>
<rect x="635.65" y="378.2" width="11.6" height="11.6" fill="none" stroke="#1c1c1c" stroke-width="1.2"/>
<rect x="661.08" y="376.75" width="11.6" height="11.6" fill="none" stroke="#1c1c1c" stroke-width="1.2"/>
<rect x="686.51" y="370.64" width="11.6" height="11.6" fill="none" stroke="#1c1c1c" stroke-width="1.2"/>
<rect x="711.94" y="359.87" width="11.6" height="11.6" fill="none" stroke="#1c1c1c" stroke-width="1.2"/>
<rect x="737.36" y="340.38" width="11.6" height="11.6" fill="none" stroke="#1c1c1c" stroke-width="1.2"/>
<rect x="762.79" y="323.51" width="11.6" height="11.6" fill="none" stroke="#1c1c1c" stroke-width="1.2"/>
<rect x="788.22" y="296.75" width="11.6" height="11.6" fill="none" stroke="#1c1c1c" stroke-width="1.2"/>
<polyline fill="none" stroke="#1c1c1c" stroke-width="1.2" points="488.88,329.31 514.31,336.29 539.74,346.47 565.16,371.49 590.59,372.65 616.02,384 641.45,381.67 666.88,374.69 692.31,355.78 717.74,320.58 743.16,274.33 768.59,235.64 794.02,199.27"/>
<line x1="488.88" y1="322.91" x2="488.88" y2="335.71" stroke="#1c1c1c" stroke-width="1.1"/>
<line x1="486.68" y1="322.91" x2="491.08" y2="322.91" stroke="#1c1c1c" stroke-width="1.1"/>
<line x1="486.68" y1="335.71" x2="491.08" y2="335.71" stroke="#1c1c1c" stroke-width="1.1"/>
<line x1="514.31" y1="331.64" x2="514.31" y2="340.95" stroke="#1c1c1c" stroke-width="1.1"/>
<line x1="512.11" y1="331.64" x2="516.51" y2="331.64" stroke="#1c1c1c" stroke-width="1.1"/>
<line x1="512.11" y1="340.95" x2="516.51" y2="340.95" stroke="#1c1c1c" stroke-width="1.1"/>
<line x1="539.74" y1="342.4" x2="539.74" y2="350.55" stroke="#1c1c1c" stroke-width="1.1"/>
<line x1="537.54" y1="342.4" x2="541.94" y2="342.4" stroke="#1c1c1c" stroke-width="1.1"/>
<line x1="537.54" y1="350.55" x2="541.94" y2="350.55" stroke="#1c1c1c" stroke-width="1.1"/>
<line x1="565.16" y1="368.58" x2="565.16" y2="374.4" stroke="#1c1c1c" stroke-width="1.1"/>
<line x1="562.96" y1="368.58" x2="567.36" y2="368.58" stroke="#1c1c1c" stroke-width="1.1"/>
<line x1="562.96" y1="374.4" x2="567.36" y2="374.4" stroke="#1c1c1c" stroke-width="1.1"/>
<line x1="590.59" y1="369.75" x2="590.59" y2="375.56" stroke="#1c1c1c" stroke-width="1.1"/>
<line x1="588.39" y1="369.75" x2="592.79" y2="369.75" stroke="#1c1c1c" stroke-width="1.1"/>
<line x1="588.39" y1="375.56" x2="592.79" y2="375.56" stroke="#1c1c1c" stroke-width="1.1"/>
<line x1="666.88" y1="372.95" x2="666.88" y2="376.44" stroke="#1c1c1c" stroke-width="1.1"/>
<line x1="664.68" y1="372.95" x2="669.08" y2="372.95" stroke="#1c1c1c" stroke-width="1.1"/>
<line x1="664.68" y1="376.44" x2="669.08" y2="376.44" stroke="#1c1c1c" stroke-width="1.1"/>
<line x1="692.31" y1="353.45" x2="692.31" y2="358.11" stroke="#1c1c1c" stroke-width="1.1"/>
<line x1="690.11" y1="353.45" x2="694.51" y2="353.45" stroke="#1c1c1c" stroke-width="1.1"/>
<line x1="690.11" y1="358.11" x2="694.51" y2="358.11" stroke="#1c1c1c" stroke-width="1.1"/>
<line x1="717.74" y1="316.51" x2="717.74" y2="324.65" stroke="#1c1c1c" stroke-width="1.1"/>
<line x1="715.54" y1="316.51" x2="719.94" y2="316.51" stroke="#1c1c1c" stroke-width="1.1"/>
<line x1="715.54" y1="324.65" x2="719.94" y2="324.65" stroke="#1c1c1c" stroke-width="1.1"/>
<line x1="743.16" y1="266.76" x2="743.16" y2="281.89" stroke="#1c1c1c" stroke-width="1.1"/>
<line x1="740.96" y1="266.76" x2="745.36" y2="266.76" stroke="#1c1c1c" stroke-width="1.1"/>
<line x1="740.96" y1="281.89" x2="745.36" y2="281.89" stroke="#1c1c1c" stroke-width="1.1"/>
<line x1="768.59" y1="226.04" x2="768.59" y2="245.24" stroke="#1c1c1c" stroke-width="1.1"/>
<line x1="766.39" y1="226.04" x2="770.79" y2="226.04" stroke="#1c1c1c" stroke-width="1.1"/>
<line x1="766.39" y1="245.24" x2="770.79" y2="245.24" stroke="#1c1c1c" stroke-width="1.1"/>
<line x1="794.02" y1="189.67" x2="794.02" y2="208.87" stroke="#1c1c1c" stroke-width="1.1"/>
<line x1="791.82" y1="189.67" x2="796.22" y2="189.67" stroke="#1c1c1c" stroke-width="1.1"/>
<line x1="791.82" y1="208.87" x2="796.22" y2="208.87" stroke="#1c1c1c" stroke-width="1.1"/>
<rect x="482.38" y="322.81" width="13" height="13" fill="#000"/>
<rect x="507.81" y="329.79" width="13" height="13" fill="#000"/>
<rect x="533.24" y="339.97" width="13" height="13" fill="#000"/>
<rect x="558.66" y="364.99" width="13" height="13" fill="#000"/>
<rect x="584.09" y="366.15" width="13" height="13" fill="#000"/>
<rect x="609.52" y="377.5" width="13" height="13" fill="#000"/>
<rect x="634.95" y="375.17" width="13" height="13" fill="#000"/>
<rect x="660.38" y="368.19" width="13" height="13" fill="#000"/>
<rect x="685.81" y="349.28" width="13" height="13" fill="#000"/>
<rect x="711.24" y="314.08" width="13" height="13" fill="#000"/>
<rect x="736.66" y="267.83" width="13" height="13" fill="#000"/>
<rect x="762.09" y="229.14" width="13" height="13" fill="#000"/>
<rect x="787.52" y="192.77" width="13" height="13" fill="#000"/>
</g>
<rect x="463.3" y="406.2" width="152.57" height="327.8" fill="#cccccc"/>
<line x1="514.16" y1="406.2" x2="514.16" y2="412.2" stroke="#1b1b1b" stroke-width="1.1"/>
<line x1="514.16" y1="734" x2="514.16" y2="728" stroke="#1b1b1b" stroke-width="1.1"/>
<line x1="565.01" y1="406.2" x2="565.01" y2="412.2" stroke="#1b1b1b" stroke-width="1.1"/>
<line x1="565.01" y1="734" x2="565.01" y2="728" stroke="#1b1b1b" stroke-width="1.1"/>
<line x1="615.87" y1="406.2" x2="615.87" y2="412.2" stroke="#1b1b1b" stroke-width="1.1"/>
<line x1="615.87" y1="734" x2="615.87" y2="728" stroke="#1b1b1b" stroke-width="1.1"/>
<line x1="666.73" y1="406.2" x2="666.73" y2="412.2" stroke="#1b1b1b" stroke-width="1.1"/>
<line x1="666.73" y1="734" x2="666.73" y2="728" stroke="#1b1b1b" stroke-width="1.1"/>
<line x1="717.59" y1="406.2" x2="717.59" y2="412.2" stroke="#1b1b1b" stroke-width="1.1"/>
<line x1="717.59" y1="734" x2="717.59" y2="728" stroke="#1b1b1b" stroke-width="1.1"/>
<line x1="768.44" y1="406.2" x2="768.44" y2="412.2" stroke="#1b1b1b" stroke-width="1.1"/>
<line x1="768.44" y1="734" x2="768.44" y2="728" stroke="#1b1b1b" stroke-width="1.1"/>
<line x1="463.3" y1="687.17" x2="469.3" y2="687.17" stroke="#1b1b1b" stroke-width="1.1"/>
<line x1="819.3" y1="687.17" x2="813.3" y2="687.17" stroke="#1b1b1b" stroke-width="1.1"/>
<line x1="463.3" y1="640.34" x2="469.3" y2="640.34" stroke="#1b1b1b" stroke-width="1.1"/>
<line x1="819.3" y1="640.34" x2="813.3" y2="640.34" stroke="#1b1b1b" stroke-width="1.1"/>
<line x1="463.3" y1="593.51" x2="469.3" y2="593.51" stroke="#1b1b1b" stroke-width="1.1"/>
<line x1="819.3" y1="593.51" x2="813.3" y2="593.51" stroke="#1b1b1b" stroke-width="1.1"/>
<line x1="463.3" y1="546.69" x2="469.3" y2="546.69" stroke="#1b1b1b" stroke-width="1.1"/>
<line x1="819.3" y1="546.69" x2="813.3" y2="546.69" stroke="#1b1b1b" stroke-width="1.1"/>
<line x1="463.3" y1="499.86" x2="469.3" y2="499.86" stroke="#1b1b1b" stroke-width="1.1"/>
<line x1="819.3" y1="499.86" x2="813.3" y2="499.86" stroke="#1b1b1b" stroke-width="1.1"/>
<line x1="463.3" y1="453.03" x2="469.3" y2="453.03" stroke="#1b1b1b" stroke-width="1.1"/>
<line x1="819.3" y1="453.03" x2="813.3" y2="453.03" stroke="#1b1b1b" stroke-width="1.1"/>
<rect x="463.3" y="406.2" width="356" height="327.8" fill="none" stroke="#1b1b1b" stroke-width="1.3"/>
<text x="474.89" y="451.2" font-size="36.4" letter-spacing="0.98">F)</text>
<g>
<polyline fill="none" stroke="#1c1c1c" stroke-width="1.2" points="488.88,654.33 514.31,647.93 539.74,658.98 565.16,670.62 590.59,731.13 616.02,732.58 641.45,732 666.88,732 692.31,728.51 717.74,727.64 743.16,724.15 768.59,724.15 794.02,720.36"/>
<line x1="488.88" y1="639.2" x2="488.88" y2="669.45" stroke="#1c1c1c" stroke-width="1.1"/>
<line x1="486.68" y1="639.2" x2="491.08" y2="639.2" stroke="#1c1c1c" stroke-width="1.1"/>
<line x1="486.68" y1="669.45" x2="491.08" y2="669.45" stroke="#1c1c1c" stroke-width="1.1"/>
<line x1="514.31" y1="631.05" x2="514.31" y2="664.8" stroke="#1c1c1c" stroke-width="1.1"/>
<line x1="512.11" y1="631.05" x2="516.51" y2="631.05" stroke="#1c1c1c" stroke-width="1.1"/>
<line x1="512.11" y1="664.8" x2="516.51" y2="664.8" stroke="#1c1c1c" stroke-width="1.1"/>
<line x1="539.74" y1="645.02" x2="539.74" y2="672.95" stroke="#1c1c1c" stroke-width="1.1"/>
<line x1="537.54" y1="645.02" x2="541.94" y2="645.02" stroke="#1c1c1c" stroke-width="1.1"/>
<line x1="537.54" y1="672.95" x2="541.94" y2="672.95" stroke="#1c1c1c" stroke-width="1.1"/>
<line x1="565.16" y1="656.65" x2="565.16" y2="684.58" stroke="#1c1c1c" stroke-width="1.1"/>
<line x1="562.96" y1="656.65" x2="567.36" y2="656.65" stroke="#1c1c1c" stroke-width="1.1"/>
<line x1="562.96" y1="684.58" x2="567.36" y2="684.58" stroke="#1c1c1c" stroke-width="1.1"/>
<line x1="692.31" y1="726.18" x2="692.31" y2="730.84" stroke="#1c1c1c" stroke-width="1.1"/>
<line x1="690.11" y1="726.18" x2="694.51" y2="726.18" stroke="#1c1c1c" stroke-width="1.1"/>
<line x1="690.11" y1="730.84" x2="694.51" y2="730.84" stroke="#1c1c1c" stroke-width="1.1"/>
<line x1="717.74" y1="724.73" x2="717.74" y2="730.55" stroke="#1c1c1c" stroke-width="1.1"/>
<line x1="715.54" y1="724.73" x2="719.94" y2="724.73" stroke="#1c1c1c" stroke-width="1.1"/>
<line x1="715.54" y1="730.55" x2="719.94" y2="730.55" stroke="#1c1c1c" stroke-width="1.1"/>
<line x1="743.16" y1="720.36" x2="743.16" y2="727.93" stroke="#1c1c1c" stroke-width="1.1"/>
<line x1="740.96" y1="720.36" x2="745.36" y2="720.36" stroke="#1c1c1c" stroke-width="1.1"/>
<line x1="740.96" y1="727.93" x2="745.36" y2="727.93" stroke="#1c1c1c" stroke-width="1.1"/>
<line x1="768.59" y1="720.36" x2="768.59" y2="727.93" stroke="#1c1c1c" stroke-width="1.1"/>
<line x1="766.39" y1="720.36" x2="770.79" y2="720.36" stroke="#1c1c1c" stroke-width="1.1"/>
<line x1="766.39" y1="727.93" x2="770.79" y2="727.93" stroke="#1c1c1c" stroke-width="1.1"/>
<line x1="794.02" y1="717.45" x2="794.02" y2="723.27" stroke="#1c1c1c" stroke-width="1.1"/>
<line x1="791.82" y1="717.45" x2="796.22" y2="717.45" stroke="#1c1c1c" stroke-width="1.1"/>
<line x1="791.82" y1="723.27" x2="796.22" y2="723.27" stroke="#1c1c1c" stroke-width="1.1"/>
<rect x="483.08" y="648.53" width="11.6" height="11.6" fill="none" stroke="#1c1c1c" stroke-width="1.2"/>
<rect x="508.51" y="642.13" width="11.6" height="11.6" fill="none" stroke="#1c1c1c" stroke-width="1.2"/>
<rect x="533.94" y="653.18" width="11.6" height="11.6" fill="none" stroke="#1c1c1c" stroke-width="1.2"/>
<rect x="559.36" y="664.82" width="11.6" height="11.6" fill="none" stroke="#1c1c1c" stroke-width="1.2"/>
<rect x="584.79" y="725.33" width="11.6" height="11.6" fill="none" stroke="#1c1c1c" stroke-width="1.2"/>
<rect x="610.22" y="726.78" width="11.6" height="11.6" fill="none" stroke="#1c1c1c" stroke-width="1.2"/>
<rect x="635.65" y="726.2" width="11.6" height="11.6" fill="none" stroke="#1c1c1c" stroke-width="1.2"/>
<rect x="661.08" y="726.2" width="11.6" height="11.6" fill="none" stroke="#1c1c1c" stroke-width="1.2"/>
<rect x="686.51" y="722.71" width="11.6" height="11.6" fill="none" stroke="#1c1c1c" stroke-width="1.2"/>
<rect x="711.94" y="721.84" width="11.6" height="11.6" fill="none" stroke="#1c1c1c" stroke-width="1.2"/>
<rect x="737.36" y="718.35" width="11.6" height="11.6" fill="none" stroke="#1c1c1c" stroke-width="1.2"/>
<rect x="762.79" y="718.35" width="11.6" height="11.6" fill="none" stroke="#1c1c1c" stroke-width="1.2"/>
<rect x="788.22" y="714.56" width="11.6" height="11.6" fill="none" stroke="#1c1c1c" stroke-width="1.2"/>
<polyline fill="none" stroke="#1c1c1c" stroke-width="1.2" points="488.88,697.67 514.31,701.75 539.74,712.51 565.16,711.64 590.59,725.6 616.02,729.96 641.45,728.51 666.88,725.6 692.31,718.91 717.74,715.13 743.16,711.93 768.59,718.33 794.02,715.13"/>
<line x1="488.88" y1="694.76" x2="488.88" y2="700.58" stroke="#1c1c1c" stroke-width="1.1"/>
<line x1="486.68" y1="694.76" x2="491.08" y2="694.76" stroke="#1c1c1c" stroke-width="1.1"/>
<line x1="486.68" y1="700.58" x2="491.08" y2="700.58" stroke="#1c1c1c" stroke-width="1.1"/>
<line x1="514.31" y1="698.84" x2="514.31" y2="704.65" stroke="#1c1c1c" stroke-width="1.1"/>
<line x1="512.11" y1="698.84" x2="516.51" y2="698.84" stroke="#1c1c1c" stroke-width="1.1"/>
<line x1="512.11" y1="704.65" x2="516.51" y2="704.65" stroke="#1c1c1c" stroke-width="1.1"/>
<line x1="539.74" y1="710.18" x2="539.74" y2="714.84" stroke="#1c1c1c" stroke-width="1.1"/>
<line x1="537.54" y1="710.18" x2="541.94" y2="710.18" stroke="#1c1c1c" stroke-width="1.1"/>
<line x1="537.54" y1="714.84" x2="541.94" y2="714.84" stroke="#1c1c1c" stroke-width="1.1"/>
<line x1="565.16" y1="709.31" x2="565.16" y2="713.96" stroke="#1c1c1c" stroke-width="1.1"/>
<line x1="562.96" y1="709.31" x2="567.36" y2="709.31" stroke="#1c1c1c" stroke-width="1.1"/>
<line x1="562.96" y1="713.96" x2="567.36" y2="713.96" stroke="#1c1c1c" stroke-width="1.1"/>
<line x1="590.59" y1="723.85" x2="590.59" y2="727.35" stroke="#1c1c1c" stroke-width="1.1"/>
<line x1="588.39" y1="723.85" x2="592.79" y2="723.85" stroke="#1c1c1c" stroke-width="1.1"/>
<line x1="588.39" y1="727.35" x2="592.79" y2="727.35" stroke="#1c1c1c" stroke-width="1.1"/>
<line x1="692.31" y1="717.45" x2="692.31" y2="720.36" stroke="#1c1c1c" stroke-width="1.1"/>
<line x1="690.11" y1="717.45" x2="694.51" y2="717.45" stroke="#1c1c1c" stroke-width="1.1"/>
<line x1="690.11" y1="720.36" x2="694.51" y2="720.36" stroke="#1c1c1c" stroke-width="1.1"/>
<line x1="717.74" y1="713.38" x2="717.74" y2="716.87" stroke="#1c1c1c" stroke-width="1.1"/>
<line x1="715.54" y1="713.38" x2="719.94" y2="713.38" stroke="#1c1c1c" stroke-width="1.1"/>
<line x1="715.54" y1="716.87" x2="719.94" y2="716.87" stroke="#1c1c1c" stroke-width="1.1"/>
<line x1="743.16" y1="710.18" x2="743.16" y2="713.67" stroke="#1c1c1c" stroke-width="1.1"/>
<line x1="740.96" y1="710.18" x2="745.36" y2="710.18" stroke="#1c1c1c" stroke-width="1.1"/>
<line x1="740.96" y1="713.67" x2="745.36" y2="713.67" stroke="#1c1c1c" stroke-width="1.1"/>
<line x1="768.59" y1="716.58" x2="768.59" y2="720.07" stroke="#1c1c1c" stroke-width="1.1"/>
<line x1="766.39" y1="716.58" x2="770.79" y2="716.58" stroke="#1c1c1c" stroke-width="1.1"/>
<line x1="766.39" y1="720.07" x2="770.79" y2="720.07" stroke="#1c1c1c" stroke-width="1.1"/>
<line x1="794.02" y1="713.38" x2="794.02" y2="716.87" stroke="#1c1c1c" stroke-width="1.1"/>
<line x1="791.82" y1="713.38" x2="796.22" y2="713.38" stroke="#1c1c1c" stroke-width="1.1"/>
<line x1="791.82" y1="716.87" x2="796.22" y2="716.87" stroke="#1c1c1c" stroke-width="1.1"/>
<rect x="482.38" y="691.17" width="13" height="13" fill="#000"/>
<rect x="507.81" y="695.25" width="13" height="13" fill="#000"/>
<rect x="533.24" y="706.01" width="13" height="13" fill="#000"/>
<rect x="558.66" y="705.14" width="13" height="13" fill="#000"/>
<rect x="584.09" y="719.1" width="13" height="13" fill="#000"/>
<rect x="609.52" y="723.46" width="13" height="13" fill="#000"/>
<rect x="634.95" y="722.01" width="13" height="13" fill="#000"/>
<rect x="660.38" y="719.1" width="13" height="13" fill="#000"/>
<rect x="685.81" y="712.41" width="13" height="13" fill="#000"/>
<rect x="711.24" y="708.63" width="13" height="13" fill="#000"/>
<rect x="736.66" y="705.43" width="13" height="13" fill="#000"/>
<rect x="762.09" y="711.83" width="13" height="13" fill="#000"/>
<rect x="787.52" y="708.63" width="13" height="13" fill="#000"/>
</g>
<rect x="463.3" y="758" width="152.57" height="328.2" fill="#cccccc"/>
<line x1="514.16" y1="758" x2="514.16" y2="764" stroke="#1b1b1b" stroke-width="1.1"/>
<line x1="514.16" y1="1086.2" x2="514.16" y2="1080.2" stroke="#1b1b1b" stroke-width="1.1"/>
<line x1="565.01" y1="758" x2="565.01" y2="764" stroke="#1b1b1b" stroke-width="1.1"/>
<line x1="565.01" y1="1086.2" x2="565.01" y2="1080.2" stroke="#1b1b1b" stroke-width="1.1"/>
<line x1="615.87" y1="758" x2="615.87" y2="764" stroke="#1b1b1b" stroke-width="1.1"/>
<line x1="615.87" y1="1086.2" x2="615.87" y2="1080.2" stroke="#1b1b1b" stroke-width="1.1"/>
<line x1="666.73" y1="758" x2="666.73" y2="764" stroke="#1b1b1b" stroke-width="1.1"/>
<line x1="666.73" y1="1086.2" x2="666.73" y2="1080.2" stroke="#1b1b1b" stroke-width="1.1"/>
<line x1="717.59" y1="758" x2="717.59" y2="764" stroke="#1b1b1b" stroke-width="1.1"/>
<line x1="717.59" y1="1086.2" x2="717.59" y2="1080.2" stroke="#1b1b1b" stroke-width="1.1"/>
<line x1="768.44" y1="758" x2="768.44" y2="764" stroke="#1b1b1b" stroke-width="1.1"/>
<line x1="768.44" y1="1086.2" x2="768.44" y2="1080.2" stroke="#1b1b1b" stroke-width="1.1"/>
<line x1="463.3" y1="1039.31" x2="469.3" y2="1039.31" stroke="#1b1b1b" stroke-width="1.1"/>
<line x1="819.3" y1="1039.31" x2="813.3" y2="1039.31" stroke="#1b1b1b" stroke-width="1.1"/>
<line x1="463.3" y1="992.43" x2="469.3" y2="992.43" stroke="#1b1b1b" stroke-width="1.1"/>
<line x1="819.3" y1="992.43" x2="813.3" y2="992.43" stroke="#1b1b1b" stroke-width="1.1"/>
<line x1="463.3" y1="945.54" x2="469.3" y2="945.54" stroke="#1b1b1b" stroke-width="1.1"/>
<line x1="819.3" y1="945.54" x2="813.3" y2="945.54" stroke="#1b1b1b" stroke-width="1.1"/>
<line x1="463.3" y1="898.66" x2="469.3" y2="898.66" stroke="#1b1b1b" stroke-width="1.1"/>
<line x1="819.3" y1="898.66" x2="813.3" y2="898.66" stroke="#1b1b1b" stroke-width="1.1"/>
<line x1="463.3" y1="851.77" x2="469.3" y2="851.77" stroke="#1b1b1b" stroke-width="1.1"/>
<line x1="819.3" y1="851.77" x2="813.3" y2="851.77" stroke="#1b1b1b" stroke-width="1.1"/>
<line x1="463.3" y1="804.89" x2="469.3" y2="804.89" stroke="#1b1b1b" stroke-width="1.1"/>
<line x1="819.3" y1="804.89" x2="813.3" y2="804.89" stroke="#1b1b1b" stroke-width="1.1"/>
<rect x="463.3" y="758" width="356" height="328.2" fill="none" stroke="#1b1b1b" stroke-width="1.3"/>
<text x="476.48" y="795" font-size="36.4" letter-spacing="0.00">G)</text>
<g>
<polyline fill="none" stroke="#1c1c1c" stroke-width="1.2" points="488.88,1016.95 514.31,1078.33 539.74,1086.76 565.16,1086.18 590.59,1086.18 616.02,1086.18 641.45,1086.18 666.88,1086.18 692.31,1086.18 717.74,1086.18 743.16,1084.73 768.59,1083.27 794.02,1080.95"/>
<line x1="488.88" y1="1006.47" x2="488.88" y2="1027.42" stroke="#1c1c1c" stroke-width="1.1"/>
<line x1="486.68" y1="1006.47" x2="491.08" y2="1006.47" stroke="#1c1c1c" stroke-width="1.1"/>
<line x1="486.68" y1="1027.42" x2="491.08" y2="1027.42" stroke="#1c1c1c" stroke-width="1.1"/>
<line x1="514.31" y1="1074.84" x2="514.31" y2="1081.82" stroke="#1c1c1c" stroke-width="1.1"/>
<line x1="512.11" y1="1074.84" x2="516.51" y2="1074.84" stroke="#1c1c1c" stroke-width="1.1"/>
<line x1="512.11" y1="1081.82" x2="516.51" y2="1081.82" stroke="#1c1c1c" stroke-width="1.1"/>
<line x1="768.59" y1="1082.11" x2="768.59" y2="1084.44" stroke="#1c1c1c" stroke-width="1.1"/>
<line x1="766.39" y1="1082.11" x2="770.79" y2="1082.11" stroke="#1c1c1c" stroke-width="1.1"/>
<line x1="766.39" y1="1084.44" x2="770.79" y2="1084.44" stroke="#1c1c1c" stroke-width="1.1"/>
<line x1="794.02" y1="1079.49" x2="794.02" y2="1082.4" stroke="#1c1c1c" stroke-width="1.1"/>
<line x1="791.82" y1="1079.49" x2="796.22" y2="1079.49" stroke="#1c1c1c" stroke-width="1.1"/>
<line x1="791.82" y1="1082.4" x2="796.22" y2="1082.4" stroke="#1c1c1c" stroke-width="1.1"/>
<rect x="483.08" y="1011.15" width="11.6" height="11.6" fill="none" stroke="#1c1c1c" stroke-width="1.2"/>
<rect x="508.51" y="1072.53" width="11.6" height="11.6" fill="none" stroke="#1c1c1c" stroke-width="1.2"/>
<rect x="533.94" y="1080.96" width="11.6" height="11.6" fill="none" stroke="#1c1c1c" stroke-width="1.2"/>
<rect x="559.36" y="1080.38" width="11.6" height="11.6" fill="none" stroke="#1c1c1c" stroke-width="1.2"/>
<rect x="584.79" y="1080.38" width="11.6" height="11.6" fill="none" stroke="#1c1c1c" stroke-width="1.2"/>
<rect x="610.22" y="1080.38" width="11.6" height="11.6" fill="none" stroke="#1c1c1c" stroke-width="1.2"/>
<rect x="635.65" y="1080.38" width="11.6" height="11.6" fill="none" stroke="#1c1c1c" stroke-width="1.2"/>
<rect x="661.08" y="1080.38" width="11.6" height="11.6" fill="none" stroke="#1c1c1c" stroke-width="1.2"/>
<rect x="686.51" y="1080.38" width="11.6" height="11.6" fill="none" stroke="#1c1c1c" stroke-width="1.2"/>
<rect x="711.94" y="1080.38" width="11.6" height="11.6" fill="none" stroke="#1c1c1c" stroke-width="1.2"/>
<rect x="737.36" y="1078.93" width="11.6" height="11.6" fill="none" stroke="#1c1c1c" stroke-width="1.2"/>
<rect x="762.79" y="1077.47" width="11.6" height="11.6" fill="none" stroke="#1c1c1c" stroke-width="1.2"/>
<rect x="788.22" y="1075.15" width="11.6" height="11.6" fill="none" stroke="#1c1c1c" stroke-width="1.2"/>
<polyline fill="none" stroke="#1c1c1c" stroke-width="1.2" points="488.88,1036.15 514.31,1046.04 539.74,1064.36 565.16,1086.47 590.59,1086.47 616.02,1086.47 641.45,1086.47 666.88,1086.47 692.31,1085.31 717.74,1085.31 743.16,1081.82 768.59,1078.62 794.02,1077.16"/>
<line x1="488.88" y1="1028.58" x2="488.88" y2="1043.71" stroke="#1c1c1c" stroke-width="1.1"/>
<line x1="486.68" y1="1028.58" x2="491.08" y2="1028.58" stroke="#1c1c1c" stroke-width="1.1"/>
<line x1="486.68" y1="1043.71" x2="491.08" y2="1043.71" stroke="#1c1c1c" stroke-width="1.1"/>
<line x1="514.31" y1="1038.47" x2="514.31" y2="1053.6" stroke="#1c1c1c" stroke-width="1.1"/>
<line x1="512.11" y1="1038.47" x2="516.51" y2="1038.47" stroke="#1c1c1c" stroke-width="1.1"/>
<line x1="512.11" y1="1053.6" x2="516.51" y2="1053.6" stroke="#1c1c1c" stroke-width="1.1"/>
<line x1="539.74" y1="1060.87" x2="539.74" y2="1067.85" stroke="#1c1c1c" stroke-width="1.1"/>
<line x1="537.54" y1="1060.87" x2="541.94" y2="1060.87" stroke="#1c1c1c" stroke-width="1.1"/>
<line x1="537.54" y1="1067.85" x2="541.94" y2="1067.85" stroke="#1c1c1c" stroke-width="1.1"/>
<line x1="768.59" y1="1077.16" x2="768.59" y2="1080.07" stroke="#1c1c1c" stroke-width="1.1"/>
<line x1="766.39" y1="1077.16" x2="770.79" y2="1077.16" stroke="#1c1c1c" stroke-width="1.1"/>
<line x1="766.39" y1="1080.07" x2="770.79" y2="1080.07" stroke="#1c1c1c" stroke-width="1.1"/>
<line x1="794.02" y1="1075.71" x2="794.02" y2="1078.62" stroke="#1c1c1c" stroke-width="1.1"/>
<line x1="791.82" y1="1075.71" x2="796.22" y2="1075.71" stroke="#1c1c1c" stroke-width="1.1"/>
<line x1="791.82" y1="1078.62" x2="796.22" y2="1078.62" stroke="#1c1c1c" stroke-width="1.1"/>
<rect x="482.38" y="1029.65" width="13" height="13" fill="#000"/>
<rect x="507.81" y="1039.54" width="13" height="13" fill="#000"/>
<rect x="533.24" y="1057.86" width="13" height="13" fill="#000"/>
<rect x="558.66" y="1079.97" width="13" height="13" fill="#000"/>
<rect x="584.09" y="1079.97" width="13" height="13" fill="#000"/>
<rect x="609.52" y="1079.97" width="13" height="13" fill="#000"/>
<rect x="634.95" y="1079.97" width="13" height="13" fill="#000"/>
<rect x="660.38" y="1079.97" width="13" height="13" fill="#000"/>
<rect x="685.81" y="1078.81" width="13" height="13" fill="#000"/>
<rect x="711.24" y="1078.81" width="13" height="13" fill="#000"/>
<rect x="736.66" y="1075.32" width="13" height="13" fill="#000"/>
<rect x="762.09" y="1072.12" width="13" height="13" fill="#000"/>
<rect x="787.52" y="1070.66" width="13" height="13" fill="#000"/>
</g>
<rect x="463.3" y="1106.3" width="152.57" height="327.6" fill="#cccccc"/>
<line x1="514.16" y1="1106.3" x2="514.16" y2="1112.3" stroke="#1b1b1b" stroke-width="1.1"/>
<line x1="514.16" y1="1433.9" x2="514.16" y2="1427.9" stroke="#1b1b1b" stroke-width="1.1"/>
<line x1="565.01" y1="1106.3" x2="565.01" y2="1112.3" stroke="#1b1b1b" stroke-width="1.1"/>
<line x1="565.01" y1="1433.9" x2="565.01" y2="1427.9" stroke="#1b1b1b" stroke-width="1.1"/>
<line x1="615.87" y1="1106.3" x2="615.87" y2="1112.3" stroke="#1b1b1b" stroke-width="1.1"/>
<line x1="615.87" y1="1433.9" x2="615.87" y2="1427.9" stroke="#1b1b1b" stroke-width="1.1"/>
<line x1="666.73" y1="1106.3" x2="666.73" y2="1112.3" stroke="#1b1b1b" stroke-width="1.1"/>
<line x1="666.73" y1="1433.9" x2="666.73" y2="1427.9" stroke="#1b1b1b" stroke-width="1.1"/>
<line x1="717.59" y1="1106.3" x2="717.59" y2="1112.3" stroke="#1b1b1b" stroke-width="1.1"/>
<line x1="717.59" y1="1433.9" x2="717.59" y2="1427.9" stroke="#1b1b1b" stroke-width="1.1"/>
<line x1="768.44" y1="1106.3" x2="768.44" y2="1112.3" stroke="#1b1b1b" stroke-width="1.1"/>
<line x1="768.44" y1="1433.9" x2="768.44" y2="1427.9" stroke="#1b1b1b" stroke-width="1.1"/>
<line x1="463.3" y1="1387.1" x2="469.3" y2="1387.1" stroke="#1b1b1b" stroke-width="1.1"/>
<line x1="819.3" y1="1387.1" x2="813.3" y2="1387.1" stroke="#1b1b1b" stroke-width="1.1"/>
<line x1="463.3" y1="1340.3" x2="469.3" y2="1340.3" stroke="#1b1b1b" stroke-width="1.1"/>
<line x1="819.3" y1="1340.3" x2="813.3" y2="1340.3" stroke="#1b1b1b" stroke-width="1.1"/>
<line x1="463.3" y1="1293.5" x2="469.3" y2="1293.5" stroke="#1b1b1b" stroke-width="1.1"/>
<line x1="819.3" y1="1293.5" x2="813.3" y2="1293.5" stroke="#1b1b1b" stroke-width="1.1"/>
<line x1="463.3" y1="1246.7" x2="469.3" y2="1246.7" stroke="#1b1b1b" stroke-width="1.1"/>
<line x1="819.3" y1="1246.7" x2="813.3" y2="1246.7" stroke="#1b1b1b" stroke-width="1.1"/>
<line x1="463.3" y1="1199.9" x2="469.3" y2="1199.9" stroke="#1b1b1b" stroke-width="1.1"/>
<line x1="819.3" y1="1199.9" x2="813.3" y2="1199.9" stroke="#1b1b1b" stroke-width="1.1"/>
<line x1="463.3" y1="1153.1" x2="469.3" y2="1153.1" stroke="#1b1b1b" stroke-width="1.1"/>
<line x1="819.3" y1="1153.1" x2="813.3" y2="1153.1" stroke="#1b1b1b" stroke-width="1.1"/>
<rect x="463.3" y="1106.3" width="356" height="327.6" fill="none" stroke="#1b1b1b" stroke-width="1.3"/>
<text x="474.69" y="1146.7" font-size="36.4" letter-spacing="0.59">H)</text>
<g>
<polyline fill="none" stroke="#1c1c1c" stroke-width="1.2" points="488.88,1434.18 514.31,1434.18 539.74,1434.76 565.16,1434.18 590.59,1434.18 616.02,1434.76 641.45,1434.18 666.88,1434.18 692.31,1433.89 717.74,1433.6 743.16,1431.56 768.59,1431.56 794.02,1428.95"/>
<line x1="717.74" y1="1431.85" x2="717.74" y2="1435.35" stroke="#1c1c1c" stroke-width="1.1"/>
<line x1="715.54" y1="1431.85" x2="719.94" y2="1431.85" stroke="#1c1c1c" stroke-width="1.1"/>
<line x1="715.54" y1="1435.35" x2="719.94" y2="1435.35" stroke="#1c1c1c" stroke-width="1.1"/>
<line x1="743.16" y1="1430.4" x2="743.16" y2="1432.73" stroke="#1c1c1c" stroke-width="1.1"/>
<line x1="740.96" y1="1430.4" x2="745.36" y2="1430.4" stroke="#1c1c1c" stroke-width="1.1"/>
<line x1="740.96" y1="1432.73" x2="745.36" y2="1432.73" stroke="#1c1c1c" stroke-width="1.1"/>
<line x1="768.59" y1="1429.24" x2="768.59" y2="1433.89" stroke="#1c1c1c" stroke-width="1.1"/>
<line x1="766.39" y1="1429.24" x2="770.79" y2="1429.24" stroke="#1c1c1c" stroke-width="1.1"/>
<line x1="766.39" y1="1433.89" x2="770.79" y2="1433.89" stroke="#1c1c1c" stroke-width="1.1"/>
<line x1="794.02" y1="1426.91" x2="794.02" y2="1430.98" stroke="#1c1c1c" stroke-width="1.1"/>
<line x1="791.82" y1="1426.91" x2="796.22" y2="1426.91" stroke="#1c1c1c" stroke-width="1.1"/>
<line x1="791.82" y1="1430.98" x2="796.22" y2="1430.98" stroke="#1c1c1c" stroke-width="1.1"/>
<rect x="483.08" y="1428.38" width="11.6" height="11.6" fill="none" stroke="#1c1c1c" stroke-width="1.2"/>
<rect x="508.51" y="1428.38" width="11.6" height="11.6" fill="none" stroke="#1c1c1c" stroke-width="1.2"/>
<rect x="533.94" y="1428.96" width="11.6" height="11.6" fill="none" stroke="#1c1c1c" stroke-width="1.2"/>
<rect x="559.36" y="1428.38" width="11.6" height="11.6" fill="none" stroke="#1c1c1c" stroke-width="1.2"/>
<rect x="584.79" y="1428.38" width="11.6" height="11.6" fill="none" stroke="#1c1c1c" stroke-width="1.2"/>
<rect x="610.22" y="1428.96" width="11.6" height="11.6" fill="none" stroke="#1c1c1c" stroke-width="1.2"/>
<rect x="635.65" y="1428.38" width="11.6" height="11.6" fill="none" stroke="#1c1c1c" stroke-width="1.2"/>
<rect x="661.08" y="1428.38" width="11.6" height="11.6" fill="none" stroke="#1c1c1c" stroke-width="1.2"/>
<rect x="686.51" y="1428.09" width="11.6" height="11.6" fill="none" stroke="#1c1c1c" stroke-width="1.2"/>
<rect x="711.94" y="1427.8" width="11.6" height="11.6" fill="none" stroke="#1c1c1c" stroke-width="1.2"/>
<rect x="737.36" y="1425.76" width="11.6" height="11.6" fill="none" stroke="#1c1c1c" stroke-width="1.2"/>
<rect x="762.79" y="1425.76" width="11.6" height="11.6" fill="none" stroke="#1c1c1c" stroke-width="1.2"/>
<rect x="788.22" y="1423.15" width="11.6" height="11.6" fill="none" stroke="#1c1c1c" stroke-width="1.2"/>
<polyline fill="none" stroke="#1c1c1c" stroke-width="1.2" points="488.88,1431.85 514.31,1428.07 539.74,1430.4 565.16,1433.6 590.59,1434.47 616.02,1426.33 641.45,1434.47 666.88,1433.6 692.31,1427.78 717.74,1423.42 743.16,1414.4 768.59,1410.04 794.02,1395.78"/>
<rect x="482.38" y="1425.35" width="13" height="13" fill="#000"/>
<rect x="507.81" y="1421.57" width="13" height="13" fill="#000"/>
<rect x="533.24" y="1423.9" width="13" height="13" fill="#000"/>
<rect x="558.66" y="1427.1" width="13" height="13" fill="#000"/>
<rect x="584.09" y="1427.97" width="13" height="13" fill="#000"/>
<rect x="609.52" y="1419.83" width="13" height="13" fill="#000"/>
<rect x="634.95" y="1427.97" width="13" height="13" fill="#000"/>
<rect x="660.38" y="1427.1" width="13" height="13" fill="#000"/>
<rect x="685.81" y="1421.28" width="13" height="13" fill="#000"/>
<rect x="711.24" y="1416.92" width="13" height="13" fill="#000"/>
<rect x="736.66" y="1407.9" width="13" height="13" fill="#000"/>
<rect x="762.09" y="1403.54" width="13" height="13" fill="#000"/>
<rect x="787.52" y="1389.28" width="13" height="13" fill="#000"/>
</g>
<text x="524.76" y="1455.3" font-size="18.0" text-anchor="end" transform="rotate(-45 524.76 1455.3)" fill="#000">2006</text>
<text x="575.61" y="1455.3" font-size="18.0" text-anchor="end" transform="rotate(-45 575.61 1455.3)" fill="#000">2008</text>
<text x="626.47" y="1455.3" font-size="18.0" text-anchor="end" transform="rotate(-45 626.47 1455.3)" fill="#000">2010</text>
<text x="677.33" y="1455.3" font-size="18.0" text-anchor="end" transform="rotate(-45 677.33 1455.3)" fill="#000">2012</text>
<text x="728.19" y="1455.3" font-size="18.0" text-anchor="end" transform="rotate(-45 728.19 1455.3)" fill="#000">2014</text>
<text x="779.04" y="1455.3" font-size="18.0" text-anchor="end" transform="rotate(-45 779.04 1455.3)" fill="#000">2016</text>
<text transform="translate(181.54 138.64) scale(0.9826 1)" font-size="24.3" fill="#000">Cyclone Oli</text>
<line x1="241.4" y1="151.8" x2="241.4" y2="188" stroke="#1c1c1c" stroke-width="1.2"/>
<path d="M241.4,194.5 L237.6,182.8 L241.4,184.6 L245.2,182.8 Z" fill="#1c1c1c"/>
<line x1="264.9" y1="178.1" x2="299" y2="178.1" stroke="#1c1c1c" stroke-width="1.2"/>
<circle cx="282.4" cy="178.1" r="6.5" fill="#000"/>
<line x1="264" y1="199.85" x2="298.2" y2="199.85" stroke="#1c1c1c" stroke-width="1.2"/>
<circle cx="281.45" cy="199.85" r="5.95" fill="none" stroke="#1c1c1c" stroke-width="1.2"/>
<text transform="translate(307.33 184.87) scale(0.9862 1)" font-size="18.1" fill="#000">10 m</text>
<text transform="translate(306.86 205.87) scale(0.9862 1)" font-size="18.1" fill="#000">17 m</text>
<line x1="101.3" y1="244.4" x2="130.7" y2="244.4" stroke="#1c1c1c" stroke-width="1.2"/>
<path d="M96.3,244.4 L106,240.3 L104.5,244.4 L106,248.5 Z" fill="#1c1c1c"/>
<line x1="207.1" y1="244.4" x2="236.1" y2="244.4" stroke="#1c1c1c" stroke-width="1.2"/>
<path d="M241.1,244.4 L231.4,240.3 L232.9,244.4 L231.4,248.5 Z" fill="#1c1c1c"/>
<line x1="249.3" y1="244.3" x2="292.2" y2="244.3" stroke="#1c1c1c" stroke-width="1.2"/>
<path d="M244.3,244.3 L254,240.2 L252.5,244.3 L254,248.4 Z" fill="#1c1c1c"/>
<line x1="407.4" y1="244.5" x2="438.6" y2="244.5" stroke="#1c1c1c" stroke-width="1.2"/>
<path d="M443.6,244.5 L433.9,240.4 L435.4,244.5 L433.9,248.6 Z" fill="#1c1c1c"/>
<text transform="translate(140.21 251.1) scale(0.9832 1)" font-size="24.3" fill="#000">COTs</text>
<text transform="translate(300.11 252.55) scale(0.9712 1)" font-size="24.3" fill="#000">Recovery</text>
<text transform="translate(562.59 40.4) scale(0.9684 1)" font-size="49.2" fill="#000">LTER 2</text>
<text transform="translate(195.29 39.4) scale(0.9684 1)" font-size="49.2" fill="#000">LTER 1</text>
<text transform="translate(941.63 40.7) scale(0.9812 1)" font-size="48.4" fill="#000">COTs-Decline</text>
<text transform="translate(1406.21 40.7) scale(0.9782 1)" font-size="48.4" fill="#000">Recovery</text>
<text transform="translate(27.9 821.61) rotate(-90) scale(0.9605 1)" font-size="30.9" fill="#000">% Cover of benthos</text>
<text transform="translate(419.85 1517.9) scale(0.9853 1)" font-size="30.6" fill="#000">Year</text>
<path d="M1092.1,56.73 H914.9 V384.58 H1092.1" fill="none" stroke="#1b1b1b" stroke-width="1.3"/>
<rect x="932.65" y="56.73" width="35.5" height="283.05" fill="#ee1111" stroke="#0a0a0a" stroke-width="1.05"/>
<rect x="968.15" y="56.73" width="35.5" height="170.47" fill="#f68a8a" stroke="#0a0a0a" stroke-width="1.05"/>
<rect x="1003.65" y="56.73" width="35.5" height="275.2" fill="#3c0ef0" stroke="#0a0a0a" stroke-width="1.05"/>
<rect x="1039.15" y="56.73" width="35.5" height="112.29" fill="#9e86f7" stroke="#0a0a0a" stroke-width="1.05"/>
<line x1="950.4" y1="311.85" x2="950.4" y2="368" stroke="#151515" stroke-width="1.0"/>
<line x1="985.9" y1="206.55" x2="985.9" y2="247.85" stroke="#151515" stroke-width="1.0"/>
<line x1="1021.4" y1="304.29" x2="1021.4" y2="360.15" stroke="#151515" stroke-width="1.0"/>
<line x1="1056.9" y1="153.31" x2="1056.9" y2="185.31" stroke="#151515" stroke-width="1.0"/>
<rect x="1109.85" y="56.73" width="35.5" height="182.69" fill="#ee1111" stroke="#0a0a0a" stroke-width="1.05"/>
<rect x="1145.35" y="56.73" width="35.5" height="175.42" fill="#f68a8a" stroke="#0a0a0a" stroke-width="1.05"/>
<rect x="1180.85" y="56.73" width="35.5" height="195.2" fill="#3c0ef0" stroke="#0a0a0a" stroke-width="1.05"/>
<rect x="1216.35" y="56.73" width="35.5" height="128" fill="#9e86f7" stroke="#0a0a0a" stroke-width="1.05"/>
<line x1="1127.6" y1="229.24" x2="1127.6" y2="249.6" stroke="#151515" stroke-width="1.0"/>
<line x1="1163.1" y1="212.36" x2="1163.1" y2="251.64" stroke="#151515" stroke-width="1.0"/>
<line x1="1198.6" y1="245.82" x2="1198.6" y2="259.49" stroke="#151515" stroke-width="1.0"/>
<line x1="1234.1" y1="178.91" x2="1234.1" y2="190.55" stroke="#151515" stroke-width="1.0"/>
<path d="M1092.1,56.73 H1269.8 V384.58 H1092.1" fill="none" stroke="#1b1b1b" stroke-width="1.3"/>
<line x1="1092.1" y1="56.13" x2="1092.1" y2="385.18" stroke="#000" stroke-width="1.5"/>
<line x1="914.9" y1="56.73" x2="920.9" y2="56.73" stroke="#1b1b1b" stroke-width="1.1"/>
<text x="909.3" y="64.03" font-size="18.0" text-anchor="end" fill="#000">0</text>
<line x1="914.9" y1="121.31" x2="920.9" y2="121.31" stroke="#1b1b1b" stroke-width="1.1"/>
<line x1="914.9" y1="187.64" x2="920.9" y2="187.64" stroke="#1b1b1b" stroke-width="1.1"/>
<text x="909.3" y="193.64" font-size="18.0" text-anchor="end" fill="#000">-2</text>
<line x1="914.9" y1="253.09" x2="920.9" y2="253.09" stroke="#1b1b1b" stroke-width="1.1"/>
<line x1="914.9" y1="319.13" x2="920.9" y2="319.13" stroke="#1b1b1b" stroke-width="1.1"/>
<text x="909.3" y="325.13" font-size="18.0" text-anchor="end" fill="#000">-4</text>
<line x1="1263.8" y1="56.73" x2="1269.8" y2="56.73" stroke="#1b1b1b" stroke-width="1.1"/>
<text x="1273.1" y="65.43" font-size="18.0" text-anchor="start" fill="#000">0</text>
<line x1="1263.8" y1="94.55" x2="1269.8" y2="94.55" stroke="#1b1b1b" stroke-width="1.1"/>
<line x1="1263.8" y1="132.36" x2="1269.8" y2="132.36" stroke="#1b1b1b" stroke-width="1.1"/>
<text x="1273.1" y="137.86" font-size="18.0" text-anchor="start" fill="#000">-0.1</text>
<line x1="1263.8" y1="171.05" x2="1269.8" y2="171.05" stroke="#1b1b1b" stroke-width="1.1"/>
<line x1="1263.8" y1="208.58" x2="1269.8" y2="208.58" stroke="#1b1b1b" stroke-width="1.1"/>
<text x="1273.1" y="214.08" font-size="18.0" text-anchor="start" fill="#000">-0.2</text>
<line x1="1263.8" y1="247.27" x2="1269.8" y2="247.27" stroke="#1b1b1b" stroke-width="1.1"/>
<line x1="1263.8" y1="285.38" x2="1269.8" y2="285.38" stroke="#1b1b1b" stroke-width="1.1"/>
<text x="1273.1" y="290.88" font-size="18.0" text-anchor="start" fill="#000">-0.3</text>
<line x1="1263.8" y1="323.2" x2="1269.8" y2="323.2" stroke="#1b1b1b" stroke-width="1.1"/>
<line x1="1263.8" y1="361.6" x2="1269.8" y2="361.6" stroke="#1b1b1b" stroke-width="1.1"/>
<text x="1273.1" y="367.1" font-size="18.0" text-anchor="start" fill="#000">-0.4</text>
<text x="1233.39" y="370.76" font-size="36.4" letter-spacing="0.65">I)</text>
<path d="M1092.1,406.76 H914.9 V734.33 H1092.1" fill="none" stroke="#1b1b1b" stroke-width="1.3"/>
<rect x="932.65" y="406.76" width="35.5" height="143.13" fill="#ee1111" stroke="#0a0a0a" stroke-width="1.05"/>
<rect x="968.15" y="406.76" width="35.5" height="92.51" fill="#f68a8a" stroke="#0a0a0a" stroke-width="1.05"/>
<rect x="1003.65" y="406.76" width="35.5" height="161.75" fill="#3c0ef0" stroke="#0a0a0a" stroke-width="1.05"/>
<rect x="1039.15" y="406.76" width="35.5" height="266.47" fill="#9e86f7" stroke="#0a0a0a" stroke-width="1.05"/>
<line x1="950.4" y1="524.58" x2="950.4" y2="575.78" stroke="#151515" stroke-width="1.0"/>
<line x1="985.9" y1="485.31" x2="985.9" y2="514.69" stroke="#151515" stroke-width="1.0"/>
<line x1="1021.4" y1="540.58" x2="1021.4" y2="597.6" stroke="#151515" stroke-width="1.0"/>
<line x1="1056.9" y1="622.33" x2="1056.9" y2="723.27" stroke="#151515" stroke-width="1.0"/>
<rect x="1109.85" y="406.76" width="35.5" height="141.09" fill="#ee1111" stroke="#0a0a0a" stroke-width="1.05"/>
<rect x="1145.35" y="406.76" width="35.5" height="121.31" fill="#f68a8a" stroke="#0a0a0a" stroke-width="1.05"/>
<rect x="1180.85" y="406.76" width="35.5" height="167.56" fill="#3c0ef0" stroke="#0a0a0a" stroke-width="1.05"/>
<rect x="1216.35" y="406.76" width="35.5" height="196.36" fill="#9e86f7" stroke="#0a0a0a" stroke-width="1.05"/>
<line x1="1127.6" y1="540.58" x2="1127.6" y2="555.13" stroke="#151515" stroke-width="1.0"/>
<line x1="1163.1" y1="512.95" x2="1163.1" y2="542.33" stroke="#151515" stroke-width="1.0"/>
<line x1="1198.6" y1="556.29" x2="1198.6" y2="592.65" stroke="#151515" stroke-width="1.0"/>
<line x1="1234.1" y1="572" x2="1234.1" y2="635.13" stroke="#151515" stroke-width="1.0"/>
<path d="M1092.1,406.76 H1269.8 V734.33 H1092.1" fill="none" stroke="#1b1b1b" stroke-width="1.3"/>
<line x1="1092.1" y1="406.16" x2="1092.1" y2="734.93" stroke="#000" stroke-width="1.5"/>
<line x1="914.9" y1="406.76" x2="920.9" y2="406.76" stroke="#1b1b1b" stroke-width="1.1"/>
<text x="909.3" y="414.06" font-size="18.0" text-anchor="end" fill="#000">0</text>
<line x1="914.9" y1="471.64" x2="920.9" y2="471.64" stroke="#1b1b1b" stroke-width="1.1"/>
<line x1="914.9" y1="538.55" x2="920.9" y2="538.55" stroke="#1b1b1b" stroke-width="1.1"/>
<text x="909.3" y="544.55" font-size="18.0" text-anchor="end" fill="#000">-2</text>
<line x1="914.9" y1="603.42" x2="920.9" y2="603.42" stroke="#1b1b1b" stroke-width="1.1"/>
<line x1="914.9" y1="669.45" x2="920.9" y2="669.45" stroke="#1b1b1b" stroke-width="1.1"/>
<text x="909.3" y="675.45" font-size="18.0" text-anchor="end" fill="#000">-4</text>
<line x1="1263.8" y1="406.76" x2="1269.8" y2="406.76" stroke="#1b1b1b" stroke-width="1.1"/>
<text x="1273.1" y="415.46" font-size="18.0" text-anchor="start" fill="#000">0</text>
<line x1="1263.8" y1="444.58" x2="1269.8" y2="444.58" stroke="#1b1b1b" stroke-width="1.1"/>
<line x1="1263.8" y1="482.69" x2="1269.8" y2="482.69" stroke="#1b1b1b" stroke-width="1.1"/>
<text x="1273.1" y="488.19" font-size="18.0" text-anchor="start" fill="#000">-0.1</text>
<line x1="1263.8" y1="521.09" x2="1269.8" y2="521.09" stroke="#1b1b1b" stroke-width="1.1"/>
<line x1="1263.8" y1="558.62" x2="1269.8" y2="558.62" stroke="#1b1b1b" stroke-width="1.1"/>
<text x="1273.1" y="564.12" font-size="18.0" text-anchor="start" fill="#000">-0.2</text>
<line x1="1263.8" y1="597.31" x2="1269.8" y2="597.31" stroke="#1b1b1b" stroke-width="1.1"/>
<line x1="1263.8" y1="635.71" x2="1269.8" y2="635.71" stroke="#1b1b1b" stroke-width="1.1"/>
<text x="1273.1" y="641.21" font-size="18.0" text-anchor="start" fill="#000">-0.3</text>
<line x1="1263.8" y1="673.53" x2="1269.8" y2="673.53" stroke="#1b1b1b" stroke-width="1.1"/>
<line x1="1263.8" y1="711.64" x2="1269.8" y2="711.64" stroke="#1b1b1b" stroke-width="1.1"/>
<text x="1273.1" y="717.14" font-size="18.0" text-anchor="start" fill="#000">-0.4</text>
<text x="1225.51" y="717.65" font-size="36.4" letter-spacing="0.40">J)</text>
<path d="M1092.1,758.33 H914.9 V1086.18 H1092.1" fill="none" stroke="#1b1b1b" stroke-width="1.3"/>
<rect x="932.65" y="758.33" width="35.5" height="247.85" fill="#ee1111" stroke="#0a0a0a" stroke-width="1.05"/>
<rect x="968.15" y="758.33" width="35.5" height="186.47" fill="#f68a8a" stroke="#0a0a0a" stroke-width="1.05"/>
<rect x="1003.65" y="758.33" width="35.5" height="160.87" fill="#3c0ef0" stroke="#0a0a0a" stroke-width="1.05"/>
<rect x="1039.15" y="758.33" width="35.5" height="153.02" fill="#9e86f7" stroke="#0a0a0a" stroke-width="1.05"/>
<line x1="950.4" y1="960.51" x2="950.4" y2="1052.73" stroke="#151515" stroke-width="1.0"/>
<line x1="985.9" y1="916.87" x2="985.9" y2="971.85" stroke="#151515" stroke-width="1.0"/>
<line x1="1021.4" y1="896.22" x2="1021.4" y2="943.05" stroke="#151515" stroke-width="1.0"/>
<line x1="1056.9" y1="890.4" x2="1056.9" y2="931.42" stroke="#151515" stroke-width="1.0"/>
<rect x="1109.85" y="758.33" width="35.5" height="197.24" fill="#ee1111" stroke="#0a0a0a" stroke-width="1.05"/>
<rect x="1145.35" y="758.33" width="35.5" height="193.16" fill="#f68a8a" stroke="#0a0a0a" stroke-width="1.05"/>
<rect x="1180.85" y="758.33" width="35.5" height="227.2" fill="#3c0ef0" stroke="#0a0a0a" stroke-width="1.05"/>
<rect x="1216.35" y="758.33" width="35.5" height="127.13" fill="#9e86f7" stroke="#0a0a0a" stroke-width="1.05"/>
<line x1="1127.6" y1="955.56" x2="1127.6" y2="964" stroke="#151515" stroke-width="1.0"/>
<line x1="1163.1" y1="934.91" x2="1163.1" y2="968.95" stroke="#151515" stroke-width="1.0"/>
<line x1="1198.6" y1="964.29" x2="1198.6" y2="1006.47" stroke="#151515" stroke-width="1.0"/>
<line x1="1234.1" y1="875.27" x2="1234.1" y2="895.93" stroke="#151515" stroke-width="1.0"/>
<line x1="1125.3" y1="948" x2="1130.1" y2="948" stroke="#151515" stroke-width="1.1"/>
<path d="M1092.1,758.33 H1269.8 V1086.18 H1092.1" fill="none" stroke="#1b1b1b" stroke-width="1.3"/>
<line x1="1092.1" y1="757.73" x2="1092.1" y2="1086.78" stroke="#000" stroke-width="1.5"/>
<line x1="914.9" y1="758.33" x2="920.9" y2="758.33" stroke="#1b1b1b" stroke-width="1.1"/>
<text x="909.3" y="765.63" font-size="18.0" text-anchor="end" fill="#000">0</text>
<line x1="914.9" y1="823.49" x2="920.9" y2="823.49" stroke="#1b1b1b" stroke-width="1.1"/>
<line x1="914.9" y1="889.53" x2="920.9" y2="889.53" stroke="#1b1b1b" stroke-width="1.1"/>
<text x="909.3" y="895.53" font-size="18.0" text-anchor="end" fill="#000">-2</text>
<line x1="914.9" y1="954.69" x2="920.9" y2="954.69" stroke="#1b1b1b" stroke-width="1.1"/>
<line x1="914.9" y1="1020.73" x2="920.9" y2="1020.73" stroke="#1b1b1b" stroke-width="1.1"/>
<text x="909.3" y="1026.73" font-size="18.0" text-anchor="end" fill="#000">-4</text>
<line x1="1263.8" y1="758.33" x2="1269.8" y2="758.33" stroke="#1b1b1b" stroke-width="1.1"/>
<text x="1273.1" y="767.03" font-size="18.0" text-anchor="start" fill="#000">0</text>
<line x1="1263.8" y1="797.31" x2="1269.8" y2="797.31" stroke="#1b1b1b" stroke-width="1.1"/>
<line x1="1263.8" y1="834.25" x2="1269.8" y2="834.25" stroke="#1b1b1b" stroke-width="1.1"/>
<text x="1273.1" y="839.75" font-size="18.0" text-anchor="start" fill="#000">-0.1</text>
<line x1="1263.8" y1="872.65" x2="1269.8" y2="872.65" stroke="#1b1b1b" stroke-width="1.1"/>
<line x1="1263.8" y1="910.18" x2="1269.8" y2="910.18" stroke="#1b1b1b" stroke-width="1.1"/>
<text x="1273.1" y="915.68" font-size="18.0" text-anchor="start" fill="#000">-0.2</text>
<line x1="1263.8" y1="948.87" x2="1269.8" y2="948.87" stroke="#1b1b1b" stroke-width="1.1"/>
<line x1="1263.8" y1="987.27" x2="1269.8" y2="987.27" stroke="#1b1b1b" stroke-width="1.1"/>
<text x="1273.1" y="992.77" font-size="18.0" text-anchor="start" fill="#000">-0.3</text>
<line x1="1263.8" y1="1025.09" x2="1269.8" y2="1025.09" stroke="#1b1b1b" stroke-width="1.1"/>
<line x1="1263.8" y1="1062.91" x2="1269.8" y2="1062.91" stroke="#1b1b1b" stroke-width="1.1"/>
<text x="1273.1" y="1068.41" font-size="18.0" text-anchor="start" fill="#000">-0.4</text>
<text x="1218.89" y="1068" font-size="36.4" letter-spacing="0.50">K)</text>
<path d="M1093.4,1107.13 H915.8 V1435.27 H1093.4" fill="none" stroke="#1b1b1b" stroke-width="1.3"/>
<rect x="933.55" y="1222.4" width="35.5" height="30.55" fill="#ee1111" stroke="#0a0a0a" stroke-width="1.05"/>
<rect x="969.05" y="1207.27" width="35.5" height="15.13" fill="#f68a8a" stroke="#0a0a0a" stroke-width="1.05"/>
<rect x="1004.55" y="1222.4" width="35.5" height="154.18" fill="#3c0ef0" stroke="#0a0a0a" stroke-width="1.05"/>
<rect x="1040.05" y="1222.4" width="35.5" height="50.33" fill="#9e86f7" stroke="#0a0a0a" stroke-width="1.05"/>
<line x1="951.3" y1="1241.89" x2="951.3" y2="1265.16" stroke="#151515" stroke-width="1.0"/>
<line x1="986.8" y1="1133.09" x2="986.8" y2="1280.87" stroke="#151515" stroke-width="1.0"/>
<line x1="1022.3" y1="1322.76" x2="1022.3" y2="1431.27" stroke="#151515" stroke-width="1.0"/>
<line x1="1057.8" y1="1260.51" x2="1057.8" y2="1284.95" stroke="#151515" stroke-width="1.0"/>
<rect x="1111.15" y="1106.33" width="35.5" height="105.89" fill="#ee1111" stroke="#0a0a0a" stroke-width="1.05"/>
<rect x="1146.65" y="1106.33" width="35.5" height="31.42" fill="#f68a8a" stroke="#0a0a0a" stroke-width="1.05"/>
<rect x="1182.15" y="1106.33" width="35.5" height="164.07" fill="#3c0ef0" stroke="#0a0a0a" stroke-width="1.05"/>
<rect x="1217.65" y="1106.33" width="35.5" height="109.38" fill="#9e86f7" stroke="#0a0a0a" stroke-width="1.05"/>
<line x1="1128.9" y1="1204.95" x2="1128.9" y2="1218.33" stroke="#151515" stroke-width="1.0"/>
<line x1="1164.4" y1="1106.33" x2="1164.4" y2="1236.95" stroke="#151515" stroke-width="1.0"/>
<line x1="1199.9" y1="1250.33" x2="1199.9" y2="1290.18" stroke="#151515" stroke-width="1.0"/>
<line x1="1235.4" y1="1202.91" x2="1235.4" y2="1229.09" stroke="#151515" stroke-width="1.0"/>
<path d="M1093.4,1106.33 H1271.1 V1434.47 H1093.4" fill="none" stroke="#1b1b1b" stroke-width="1.3"/>
<line x1="1093.4" y1="1105.73" x2="1093.4" y2="1435.07" stroke="#000" stroke-width="1.5"/>
<line x1="915.8" y1="1222.4" x2="1093.4" y2="1222.4" stroke="#111" stroke-width="1.3"/>
<line x1="915.8" y1="1145.31" x2="921.8" y2="1145.31" stroke="#1b1b1b" stroke-width="1.1"/>
<text x="909.9" y="1149.31" font-size="18.0" text-anchor="end" fill="#000">0.2</text>
<line x1="915.8" y1="1183.71" x2="921.8" y2="1183.71" stroke="#1b1b1b" stroke-width="1.1"/>
<line x1="915.8" y1="1222.4" x2="921.8" y2="1222.4" stroke="#1b1b1b" stroke-width="1.1"/>
<text x="909.9" y="1226.4" font-size="18.0" text-anchor="end" fill="#000">0</text>
<line x1="915.8" y1="1261.09" x2="921.8" y2="1261.09" stroke="#1b1b1b" stroke-width="1.1"/>
<line x1="915.8" y1="1299.2" x2="921.8" y2="1299.2" stroke="#1b1b1b" stroke-width="1.1"/>
<text x="909.9" y="1303.2" font-size="18.0" text-anchor="end" fill="#000">-0.2</text>
<line x1="915.8" y1="1337.6" x2="921.8" y2="1337.6" stroke="#1b1b1b" stroke-width="1.1"/>
<line x1="915.8" y1="1376.29" x2="921.8" y2="1376.29" stroke="#1b1b1b" stroke-width="1.1"/>
<text x="909.9" y="1380.29" font-size="18.0" text-anchor="end" fill="#000">-0.4</text>
<line x1="915.8" y1="1416.44" x2="921.8" y2="1416.44" stroke="#1b1b1b" stroke-width="1.1"/>
<line x1="1265.1" y1="1106.33" x2="1271.1" y2="1106.33" stroke="#1b1b1b" stroke-width="1.1"/>
<text x="1274.4" y="1115.03" font-size="18.0" text-anchor="start" fill="#000">0</text>
<line x1="1265.1" y1="1144.44" x2="1271.1" y2="1144.44" stroke="#1b1b1b" stroke-width="1.1"/>
<line x1="1265.1" y1="1182.25" x2="1271.1" y2="1182.25" stroke="#1b1b1b" stroke-width="1.1"/>
<text x="1274.4" y="1187.75" font-size="18.0" text-anchor="start" fill="#000">-0.1</text>
<line x1="1265.1" y1="1220.65" x2="1271.1" y2="1220.65" stroke="#1b1b1b" stroke-width="1.1"/>
<line x1="1265.1" y1="1258.18" x2="1271.1" y2="1258.18" stroke="#1b1b1b" stroke-width="1.1"/>
<text x="1274.4" y="1263.68" font-size="18.0" text-anchor="start" fill="#000">-0.2</text>
<line x1="1265.1" y1="1296.87" x2="1271.1" y2="1296.87" stroke="#1b1b1b" stroke-width="1.1"/>
<line x1="1265.1" y1="1335.56" x2="1271.1" y2="1335.56" stroke="#1b1b1b" stroke-width="1.1"/>
<text x="1274.4" y="1341.06" font-size="18.0" text-anchor="start" fill="#000">-0.3</text>
<line x1="1265.1" y1="1373.38" x2="1271.1" y2="1373.38" stroke="#1b1b1b" stroke-width="1.1"/>
<line x1="1265.1" y1="1411.2" x2="1271.1" y2="1411.2" stroke="#1b1b1b" stroke-width="1.1"/>
<text x="1274.4" y="1416.7" font-size="18.0" text-anchor="start" fill="#000">-0.4</text>
<text x="1222.85" y="1418.3" font-size="36.4" letter-spacing="0.72">L)</text>
<rect x="1100.3" y="267" width="10.8" height="10.5" fill="#ee1111" stroke="#151515" stroke-width="1.0"/>
<text transform="translate(1116.26 278.45) scale(0.9816 1)" font-size="18.3" fill="#000">LTER1-10 m</text>
<rect x="1100.3" y="287.3" width="10.8" height="10.4" fill="#f68a8a" stroke="#151515" stroke-width="1.0"/>
<text transform="translate(1116.26 298.8) scale(0.9816 1)" font-size="18.3" fill="#000">LTER2-10 m</text>
<rect x="1100.3" y="308.45" width="10.8" height="10.45" fill="#3c0ef0" stroke="#151515" stroke-width="1.0"/>
<text transform="translate(1116.96 320) scale(0.9826 1)" font-size="18.3" fill="#000">LTER1-17 m</text>
<rect x="1100.3" y="330.2" width="10.8" height="10.4" fill="#9e86f7" stroke="#151515" stroke-width="1.0"/>
<text transform="translate(1116.96 342.45) scale(0.9826 1)" font-size="18.3" fill="#000">LTER2-17 m</text>
<text transform="translate(956.35 1469.5) scale(0.9685 1)" font-size="30.6" fill="#000">Absolute</text>
<text transform="translate(1139.31 1468.3) scale(0.9766 1)" font-size="30.6" fill="#000">Relative</text>
<text transform="translate(864.5 772.1) rotate(-90) scale(0.93 1)" font-size="31.2">% y<tspan dy="-7.6" font-size="24.2">-1</tspan></text>
<text transform="translate(1334.8 769.1) rotate(-90) scale(0.93 1)" font-size="31.2">y<tspan dy="-7.6" font-size="24.2">-1</tspan></text>
<text transform="translate(1373.2 784) rotate(-90) scale(0.93 1)" font-size="31.2">% y<tspan dy="-7.6" font-size="24.2">-1</tspan></text>
<text transform="translate(1373.2 1306) rotate(-90) scale(0.93 1)" font-size="31.2">% y<tspan dy="-7.6" font-size="24.2">-1</tspan></text>
<rect x="1414.5" y="57.05" width="178" height="327.85" fill="none" stroke="#1b1b1b" stroke-width="1.3"/>
<rect x="1432.4" y="82.4" width="35.5" height="302.5" fill="#ee1111" stroke="#0a0a0a" stroke-width="1.05"/>
<rect x="1467.9" y="190.16" width="35.5" height="194.74" fill="#f68a8a" stroke="#0a0a0a" stroke-width="1.05"/>
<rect x="1503.4" y="296.26" width="35.5" height="88.64" fill="#3c0ef0" stroke="#0a0a0a" stroke-width="1.05"/>
<rect x="1538.9" y="304.8" width="35.5" height="80.1" fill="#9e86f7" stroke="#0a0a0a" stroke-width="1.05"/>
<line x1="1450.15" y1="68.35" x2="1450.15" y2="95.91" stroke="#151515" stroke-width="1.0"/>
<line x1="1485.65" y1="179.96" x2="1485.65" y2="201.46" stroke="#151515" stroke-width="1.0"/>
<line x1="1521.15" y1="286.06" x2="1521.15" y2="305.91" stroke="#151515" stroke-width="1.0"/>
<line x1="1556.65" y1="297.64" x2="1556.65" y2="313.35" stroke="#151515" stroke-width="1.0"/>
<text x="1407.8" y="390.25" font-size="18.0" text-anchor="end" fill="#000">0</text>
<line x1="1414.5" y1="319.13" x2="1420.5" y2="319.13" stroke="#1b1b1b" stroke-width="1.1"/>
<line x1="1586.5" y1="319.13" x2="1592.5" y2="319.13" stroke="#1b1b1b" stroke-width="1.1"/>
<line x1="1414.5" y1="253.27" x2="1420.5" y2="253.27" stroke="#1b1b1b" stroke-width="1.1"/>
<line x1="1586.5" y1="253.27" x2="1592.5" y2="253.27" stroke="#1b1b1b" stroke-width="1.1"/>
<text x="1407.8" y="258.37" font-size="18.0" text-anchor="end" fill="#000">4</text>
<line x1="1414.5" y1="188.23" x2="1420.5" y2="188.23" stroke="#1b1b1b" stroke-width="1.1"/>
<line x1="1586.5" y1="188.23" x2="1592.5" y2="188.23" stroke="#1b1b1b" stroke-width="1.1"/>
<line x1="1414.5" y1="121.54" x2="1420.5" y2="121.54" stroke="#1b1b1b" stroke-width="1.1"/>
<line x1="1586.5" y1="121.54" x2="1592.5" y2="121.54" stroke="#1b1b1b" stroke-width="1.1"/>
<text x="1407.8" y="126.64" font-size="18.0" text-anchor="end" fill="#000">8</text>
<text x="1536.49" y="91.85" font-size="36.4" letter-spacing="0.99">M)</text>
<text transform="translate(1633.5 330.51) rotate(-90) scale(0.9854 1)" font-size="47.8" font-style="italic" fill="#000">Pocillopora</text>
<rect x="1415.2" y="406.18" width="177.6" height="327.4" fill="none" stroke="#1b1b1b" stroke-width="1.3"/>
<rect x="1433.2" y="504.84" width="35.5" height="228.74" fill="#ee1111" stroke="#0a0a0a" stroke-width="1.05"/>
<rect x="1468.7" y="533.5" width="35.5" height="200.08" fill="#f68a8a" stroke="#0a0a0a" stroke-width="1.05"/>
<rect x="1504.2" y="627.48" width="35.5" height="106.1" fill="#3c0ef0" stroke="#0a0a0a" stroke-width="1.05"/>
<rect x="1539.7" y="586.42" width="35.5" height="147.17" fill="#9e86f7" stroke="#0a0a0a" stroke-width="1.05"/>
<line x1="1450.95" y1="479.76" x2="1450.95" y2="529.92" stroke="#151515" stroke-width="1.0"/>
<line x1="1486.45" y1="483.9" x2="1486.45" y2="582.56" stroke="#151515" stroke-width="1.0"/>
<line x1="1521.95" y1="602.13" x2="1521.95" y2="652.28" stroke="#151515" stroke-width="1.0"/>
<line x1="1557.45" y1="552.8" x2="1557.45" y2="619.76" stroke="#151515" stroke-width="1.0"/>
<text x="1408.5" y="738.58" font-size="18.0" text-anchor="end" fill="#000">0</text>
<line x1="1415.2" y1="693.07" x2="1421.2" y2="693.07" stroke="#1b1b1b" stroke-width="1.1"/>
<line x1="1586.8" y1="693.07" x2="1592.8" y2="693.07" stroke="#1b1b1b" stroke-width="1.1"/>
<line x1="1415.2" y1="652.01" x2="1421.2" y2="652.01" stroke="#1b1b1b" stroke-width="1.1"/>
<line x1="1586.8" y1="652.01" x2="1592.8" y2="652.01" stroke="#1b1b1b" stroke-width="1.1"/>
<text x="1408.5" y="655.31" font-size="18.0" text-anchor="end" fill="#000">0.2</text>
<line x1="1415.2" y1="611.5" x2="1421.2" y2="611.5" stroke="#1b1b1b" stroke-width="1.1"/>
<line x1="1586.8" y1="611.5" x2="1592.8" y2="611.5" stroke="#1b1b1b" stroke-width="1.1"/>
<line x1="1415.2" y1="570.16" x2="1421.2" y2="570.16" stroke="#1b1b1b" stroke-width="1.1"/>
<line x1="1586.8" y1="570.16" x2="1592.8" y2="570.16" stroke="#1b1b1b" stroke-width="1.1"/>
<text x="1408.5" y="573.46" font-size="18.0" text-anchor="end" fill="#000">0.4</text>
<line x1="1415.2" y1="529.65" x2="1421.2" y2="529.65" stroke="#1b1b1b" stroke-width="1.1"/>
<line x1="1586.8" y1="529.65" x2="1592.8" y2="529.65" stroke="#1b1b1b" stroke-width="1.1"/>
<line x1="1415.2" y1="488.03" x2="1421.2" y2="488.03" stroke="#1b1b1b" stroke-width="1.1"/>
<line x1="1586.8" y1="488.03" x2="1592.8" y2="488.03" stroke="#1b1b1b" stroke-width="1.1"/>
<text x="1408.5" y="491.33" font-size="18.0" text-anchor="end" fill="#000">0.6</text>
<line x1="1415.2" y1="447.24" x2="1421.2" y2="447.24" stroke="#1b1b1b" stroke-width="1.1"/>
<line x1="1586.8" y1="447.24" x2="1592.8" y2="447.24" stroke="#1b1b1b" stroke-width="1.1"/>
<text x="1540.99" y="440.5" font-size="36.4" letter-spacing="0.49">N)</text>
<text transform="translate(1634.3 642.53) rotate(-90) scale(0.9947 1)" font-size="47.8" font-style="italic" fill="#000">Porites</text>
<rect x="1415.2" y="757.36" width="177.6" height="327.68" fill="none" stroke="#1b1b1b" stroke-width="1.3"/>
<rect x="1433.2" y="846.38" width="35.5" height="238.66" fill="#ee1111" stroke="#0a0a0a" stroke-width="1.05"/>
<rect x="1468.7" y="938.43" width="35.5" height="146.61" fill="#f68a8a" stroke="#0a0a0a" stroke-width="1.05"/>
<rect x="1504.2" y="990.79" width="35.5" height="94.25" fill="#3c0ef0" stroke="#0a0a0a" stroke-width="1.05"/>
<rect x="1539.7" y="993.54" width="35.5" height="91.5" fill="#9e86f7" stroke="#0a0a0a" stroke-width="1.05"/>
<line x1="1450.95" y1="799.8" x2="1450.95" y2="892.4" stroke="#151515" stroke-width="1.0"/>
<line x1="1486.45" y1="904.53" x2="1486.45" y2="971.5" stroke="#151515" stroke-width="1.0"/>
<line x1="1521.95" y1="973.7" x2="1521.95" y2="1006.77" stroke="#151515" stroke-width="1.0"/>
<line x1="1557.45" y1="967.91" x2="1557.45" y2="1020.55" stroke="#151515" stroke-width="1.0"/>
<text x="1408.5" y="1089.94" font-size="18.0" text-anchor="end" fill="#000">0</text>
<line x1="1415.2" y1="1020" x2="1421.2" y2="1020" stroke="#1b1b1b" stroke-width="1.1"/>
<line x1="1586.8" y1="1020" x2="1592.8" y2="1020" stroke="#1b1b1b" stroke-width="1.1"/>
<line x1="1415.2" y1="953.86" x2="1421.2" y2="953.86" stroke="#1b1b1b" stroke-width="1.1"/>
<line x1="1586.8" y1="953.86" x2="1592.8" y2="953.86" stroke="#1b1b1b" stroke-width="1.1"/>
<text x="1408.5" y="958.56" font-size="18.0" text-anchor="end" fill="#000">0.4</text>
<line x1="1415.2" y1="888.82" x2="1421.2" y2="888.82" stroke="#1b1b1b" stroke-width="1.1"/>
<line x1="1586.8" y1="888.82" x2="1592.8" y2="888.82" stroke="#1b1b1b" stroke-width="1.1"/>
<line x1="1415.2" y1="822.68" x2="1421.2" y2="822.68" stroke="#1b1b1b" stroke-width="1.1"/>
<line x1="1586.8" y1="822.68" x2="1592.8" y2="822.68" stroke="#1b1b1b" stroke-width="1.1"/>
<text x="1408.5" y="827.38" font-size="18.0" text-anchor="end" fill="#000">0.8</text>
<text x="1539.56" y="792.55" font-size="36.4" letter-spacing="0.12">O)</text>
<text transform="translate(1634.3 1013.39) rotate(-90) scale(0.9823 1)" font-size="47.8" font-style="italic" fill="#000">Acropora</text>
<rect x="1415" y="1106.2" width="177.8" height="327.68" fill="none" stroke="#1b1b1b" stroke-width="1.3"/>
<rect x="1432.6" y="1165.46" width="35.5" height="268.43" fill="#ee1111" stroke="#0a0a0a" stroke-width="1.05"/>
<rect x="1468.1" y="1267.43" width="35.5" height="166.46" fill="#f68a8a" stroke="#0a0a0a" stroke-width="1.05"/>
<rect x="1503.6" y="1404.39" width="35.5" height="29.49" fill="#3c0ef0" stroke="#0a0a0a" stroke-width="1.05"/>
<rect x="1539.1" y="1406.32" width="35.5" height="27.56" fill="#9e86f7" stroke="#0a0a0a" stroke-width="1.05"/>
<line x1="1450.35" y1="1137.62" x2="1450.35" y2="1193.57" stroke="#151515" stroke-width="1.0"/>
<line x1="1485.85" y1="1243.45" x2="1485.85" y2="1290.57" stroke="#151515" stroke-width="1.0"/>
<line x1="1521.35" y1="1398.06" x2="1521.35" y2="1411.83" stroke="#151515" stroke-width="1.0"/>
<line x1="1556.85" y1="1398.88" x2="1556.85" y2="1413.21" stroke="#151515" stroke-width="1.0"/>
<text x="1408.3" y="1440.18" font-size="18.0" text-anchor="end" fill="#000">0</text>
<line x1="1415" y1="1352.03" x2="1421" y2="1352.03" stroke="#1b1b1b" stroke-width="1.1"/>
<line x1="1586.8" y1="1352.03" x2="1592.8" y2="1352.03" stroke="#1b1b1b" stroke-width="1.1"/>
<line x1="1415" y1="1270.18" x2="1421" y2="1270.18" stroke="#1b1b1b" stroke-width="1.1"/>
<line x1="1586.8" y1="1270.18" x2="1592.8" y2="1270.18" stroke="#1b1b1b" stroke-width="1.1"/>
<text x="1408.3" y="1275.58" font-size="18.0" text-anchor="end" fill="#000">1</text>
<line x1="1415" y1="1188.06" x2="1421" y2="1188.06" stroke="#1b1b1b" stroke-width="1.1"/>
<line x1="1586.8" y1="1188.06" x2="1592.8" y2="1188.06" stroke="#1b1b1b" stroke-width="1.1"/>
<text x="1408.3" y="1114.9" font-size="18.0" text-anchor="end" fill="#000">2</text>
<text x="1542.89" y="1141.7" font-size="36.4" letter-spacing="0.50">P)</text>
<text transform="translate(1635.2 1373.81) rotate(-90) scale(0.9862 1)" font-size="47.8" font-style="italic" fill="#000">Montipora</text>
</svg>
</body>
</html>
